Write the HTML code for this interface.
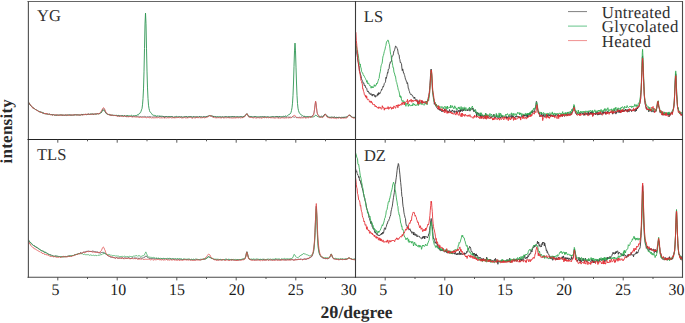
<!DOCTYPE html><html><head><meta charset="utf-8"><style>html,body{margin:0;padding:0;background:#fff;width:685px;height:323px;overflow:hidden;}svg{display:block;font-family:"Liberation Serif",serif;text-rendering:geometricPrecision;}</style></head><body><svg width="685" height="323" viewBox="0 0 685 323"><defs><clipPath id="cYG"><rect x="28.0" y="1.5" width="327.5" height="137.5"/></clipPath><clipPath id="cLS"><rect x="355.5" y="1.5" width="327.0" height="137.5"/></clipPath><clipPath id="cTLS"><rect x="28.0" y="139.5" width="327.5" height="137.5"/></clipPath><clipPath id="cDZ"><rect x="355.5" y="139.5" width="327.0" height="137.5"/></clipPath></defs><polyline clip-path="url(#cYG)" fill="none" stroke="#2e9552" stroke-width="0.95" stroke-opacity="0.95" stroke-linejoin="round" points="28.0,101.7 28.5,102.3 29.0,103.1 29.5,103.3 30.0,105.0 30.5,105.5 31.0,105.7 31.5,106.5 32.0,106.9 32.5,107.1 33.0,107.9 33.5,108.0 34.0,108.4 34.5,108.6 35.0,109.3 35.5,109.5 36.0,109.9 36.5,109.9 37.0,110.4 37.5,110.4 38.0,111.1 38.5,111.2 39.0,111.5 39.5,111.8 40.0,111.6 40.5,112.3 41.0,112.8 41.5,112.1 42.0,112.2 42.5,112.4 43.0,113.2 43.5,113.1 44.0,113.5 44.5,113.5 45.0,113.5 45.5,113.7 46.0,113.7 46.5,114.1 47.0,113.7 47.5,114.0 48.0,114.2 48.5,114.7 49.0,114.2 49.5,114.1 50.0,114.3 50.5,114.8 51.0,114.5 51.5,115.0 52.0,114.2 52.5,115.0 53.0,115.1 53.5,114.5 54.0,115.0 54.5,115.3 55.0,115.0 55.5,115.3 56.0,115.7 56.5,115.2 57.0,115.1 57.5,115.0 58.0,115.3 58.5,115.1 59.0,115.1 59.5,115.2 60.0,115.3 60.5,114.9 61.0,114.8 61.5,114.6 62.0,115.5 62.5,115.2 63.0,115.5 63.5,115.2 64.0,115.0 64.5,115.3 65.0,115.1 65.5,114.8 66.0,114.9 66.5,115.6 67.0,115.2 67.5,115.2 68.0,115.0 68.5,114.9 69.0,115.3 69.5,115.0 70.0,114.9 70.5,115.0 71.0,114.8 71.5,115.1 72.0,115.3 72.5,114.8 73.0,115.4 73.5,114.8 74.0,115.0 74.5,114.8 75.0,114.9 75.5,115.0 76.0,114.8 76.5,114.7 77.0,114.7 77.5,114.7 78.0,114.5 78.5,114.8 79.0,114.9 79.5,115.0 80.0,114.9 80.5,115.3 81.0,114.8 81.5,114.5 82.0,115.1 82.5,114.3 83.0,114.8 83.5,114.3 84.0,114.6 84.5,114.0 85.0,114.7 85.5,114.4 86.0,114.1 86.5,114.8 87.0,114.5 87.5,114.3 88.0,114.1 88.5,114.3 89.0,114.2 89.5,114.4 90.0,114.4 90.5,114.0 91.0,114.0 91.5,114.0 92.0,113.8 92.5,114.0 93.0,114.1 93.5,114.3 94.0,114.4 94.5,113.9 95.0,114.2 95.5,113.9 96.0,114.5 96.5,114.0 97.0,114.1 97.5,113.7 98.0,113.7 98.5,113.9 99.0,113.6 99.5,113.7 100.0,113.0 100.5,113.2 101.0,112.4 101.5,112.5 102.0,111.3 102.5,111.0 103.0,109.8 103.5,110.1 104.0,110.1 104.5,110.8 105.0,111.7 105.5,112.4 106.0,113.2 106.5,113.8 107.0,114.2 107.5,114.3 108.0,114.2 108.5,114.5 109.0,114.7 109.5,114.3 110.0,115.1 110.5,114.9 111.0,115.0 111.5,115.3 112.0,115.3 112.5,115.2 113.0,115.0 113.5,115.3 114.0,115.4 114.5,115.1 115.0,115.6 115.5,115.5 116.0,114.9 116.5,115.5 117.0,115.2 117.5,115.8 118.0,115.8 118.5,115.3 119.0,115.4 119.5,115.7 120.0,115.6 120.5,116.1 121.0,115.9 121.5,115.7 122.0,115.9 122.5,115.3 123.0,115.9 123.5,116.0 124.0,115.8 124.5,115.7 125.0,116.0 125.5,116.4 126.0,115.9 126.5,115.6 127.0,116.3 127.5,115.4 128.0,116.0 128.5,115.8 129.0,116.1 129.5,115.7 130.0,116.2 130.5,116.0 131.0,115.4 131.5,115.3 132.0,115.7 132.5,116.1 133.0,115.8 133.5,115.7 134.0,115.6 134.5,115.8 135.0,115.6 135.5,115.5 136.0,115.1 136.5,115.5 137.0,115.4 137.5,114.6 138.0,115.3 138.5,114.6 139.0,114.0 139.5,113.2 140.0,113.3 140.5,112.6 141.0,111.4 141.5,109.8 142.0,108.6 142.5,104.8 143.0,98.7 143.5,88.9 144.0,71.8 144.5,48.4 145.0,24.1 145.5,13.1 146.0,23.6 146.5,48.2 147.0,71.1 147.5,87.9 148.0,98.5 148.5,105.2 149.0,108.4 149.5,110.5 150.0,111.9 150.5,112.4 151.0,113.0 151.5,113.4 152.0,114.2 152.5,114.9 153.0,114.9 153.5,115.3 154.0,115.1 154.5,115.4 155.0,115.5 155.5,115.5 156.0,116.4 156.5,116.2 157.0,115.9 157.5,115.9 158.0,116.2 158.5,115.9 159.0,116.4 159.5,116.0 160.0,116.3 160.5,116.2 161.0,116.3 161.5,116.2 162.0,116.1 162.5,116.3 163.0,116.4 163.5,116.5 164.0,116.6 164.5,117.0 165.0,116.8 165.5,116.6 166.0,116.9 166.5,116.5 167.0,117.1 167.5,116.9 168.0,116.4 168.5,116.9 169.0,117.0 169.5,116.1 170.0,116.6 170.5,116.7 171.0,116.3 171.5,116.5 172.0,116.6 172.5,116.9 173.0,116.9 173.5,117.5 174.0,116.7 174.5,117.1 175.0,116.9 175.5,116.9 176.0,116.6 176.5,116.4 177.0,116.7 177.5,117.0 178.0,117.3 178.5,117.0 179.0,117.0 179.5,116.7 180.0,117.3 180.5,117.2 181.0,116.8 181.5,116.9 182.0,116.6 182.5,117.3 183.0,117.0 183.5,116.9 184.0,117.0 184.5,117.0 185.0,116.8 185.5,116.6 186.0,116.6 186.5,116.5 187.0,117.0 187.5,117.5 188.0,116.5 188.5,117.0 189.0,117.0 189.5,116.7 190.0,117.0 190.5,116.6 191.0,117.2 191.5,116.8 192.0,117.0 192.5,117.1 193.0,116.8 193.5,116.5 194.0,116.8 194.5,117.1 195.0,116.9 195.5,117.0 196.0,116.7 196.5,117.0 197.0,117.1 197.5,116.9 198.0,117.4 198.5,116.9 199.0,116.7 199.5,116.5 200.0,117.2 200.5,116.9 201.0,117.2 201.5,117.0 202.0,117.3 202.5,117.2 203.0,116.8 203.5,117.0 204.0,117.2 204.5,116.6 205.0,117.2 205.5,117.1 206.0,117.0 206.5,116.7 207.0,116.7 207.5,116.2 208.0,116.3 208.5,115.9 209.0,115.9 209.5,115.5 210.0,115.7 210.5,116.0 211.0,115.5 211.5,116.3 212.0,115.8 212.5,115.9 213.0,116.6 213.5,116.7 214.0,116.9 214.5,116.4 215.0,116.8 215.5,116.9 216.0,117.2 216.5,116.9 217.0,117.0 217.5,116.7 218.0,116.9 218.5,116.8 219.0,117.1 219.5,116.7 220.0,116.7 220.5,117.1 221.0,117.4 221.5,117.0 222.0,117.0 222.5,116.9 223.0,117.2 223.5,117.1 224.0,117.4 224.5,117.0 225.0,116.7 225.5,116.8 226.0,116.7 226.5,116.6 227.0,117.3 227.5,117.1 228.0,116.6 228.5,117.4 229.0,117.0 229.5,116.7 230.0,117.0 230.5,116.9 231.0,116.8 231.5,116.5 232.0,117.0 232.5,117.0 233.0,116.3 233.5,117.1 234.0,117.1 234.5,116.8 235.0,117.0 235.5,116.9 236.0,116.7 236.5,116.8 237.0,117.3 237.5,116.6 238.0,117.0 238.5,117.0 239.0,116.7 239.5,116.8 240.0,116.5 240.5,116.7 241.0,116.9 241.5,116.9 242.0,116.6 242.5,117.6 243.0,116.6 243.5,116.7 244.0,116.5 244.5,116.2 245.0,116.2 245.5,115.1 246.0,114.8 246.7,114.1 247.0,113.7 247.5,114.9 248.0,115.2 248.5,116.7 249.0,116.3 249.5,116.4 250.0,116.2 250.5,116.5 251.0,116.7 251.5,116.6 252.0,116.5 252.5,116.7 253.0,116.8 253.5,117.2 254.0,116.5 254.5,116.8 255.0,116.7 255.5,116.5 256.0,116.6 256.5,116.7 257.0,117.1 257.5,116.9 258.0,116.8 258.5,117.1 259.0,117.0 259.5,116.9 260.0,117.0 260.5,116.7 261.0,117.1 261.5,117.0 262.0,116.8 262.5,116.6 263.0,117.3 263.5,116.9 264.0,117.7 264.5,116.7 265.0,117.1 265.5,116.8 266.0,117.0 266.5,117.1 267.0,116.7 267.5,116.9 268.0,116.9 268.5,116.9 269.0,117.0 269.5,117.2 270.0,117.1 270.5,117.0 271.0,116.8 271.5,116.6 272.0,116.7 272.5,116.7 273.0,117.0 273.5,116.8 274.0,116.5 274.5,117.0 275.0,116.6 275.5,116.6 276.0,116.8 276.5,116.9 277.0,116.2 277.5,116.5 278.0,116.8 278.5,116.7 279.0,116.5 279.5,116.6 280.0,117.0 280.5,116.6 281.0,116.8 281.5,116.8 282.0,116.5 282.5,116.7 283.0,116.4 283.5,116.3 284.0,116.1 284.5,116.5 285.0,116.2 285.5,116.0 286.0,115.8 286.5,116.4 287.0,116.0 287.5,115.6 288.0,115.2 288.5,114.8 289.0,114.9 289.5,114.5 290.0,113.5 290.5,113.5 291.0,112.4 291.5,110.4 292.0,107.8 292.5,103.2 293.0,95.3 293.5,83.0 294.0,66.5 294.5,50.9 295.0,43.1 295.5,50.9 296.0,67.2 296.5,83.0 297.0,95.4 297.5,103.5 298.0,108.2 298.5,110.6 299.0,112.1 299.5,113.2 300.0,113.7 300.5,114.3 301.0,114.4 301.5,115.2 302.0,115.2 302.5,115.6 303.0,115.9 303.5,116.1 304.0,116.6 304.5,116.3 305.0,116.0 305.5,116.5 306.0,116.3 306.5,116.7 307.0,116.4 307.5,116.5 308.0,116.6 308.5,116.6 309.0,116.3 309.5,116.6 310.0,116.8 310.5,117.1 311.0,116.8 311.5,116.8 312.0,117.0 312.5,117.0 313.0,117.2 313.5,116.8 314.0,116.4 314.5,116.4 315.0,116.0 315.6,115.2 316.0,115.5 316.5,115.5 317.0,116.3 317.5,116.5 318.0,116.8 318.5,116.8 319.0,117.0 319.5,117.0 320.0,117.2 320.5,117.1 321.0,116.9 321.5,116.7 322.0,117.3 322.5,117.2 323.0,116.6 323.5,116.4 324.0,115.3 324.5,114.6 325.0,114.3 325.3,114.6 326.0,114.6 326.5,115.4 327.0,116.6 327.5,116.2 328.0,117.1 328.5,117.2 329.0,117.1 329.5,117.2 330.0,117.9 330.5,117.0 331.0,117.2 331.5,117.2 332.0,117.1 332.5,117.0 333.0,117.7 333.5,117.4 334.0,116.9 334.5,117.2 335.0,117.4 335.5,117.5 336.0,117.0 336.5,117.3 337.0,117.4 337.5,117.5 338.0,117.5 338.5,116.9 339.0,117.9 339.5,117.5 340.0,117.9 340.5,118.1 341.0,117.4 341.5,117.1 342.0,117.6 342.5,117.4 343.0,117.3 343.5,117.1 344.0,117.8 344.5,117.3 345.0,117.0 345.5,117.2 346.0,116.9 346.5,117.1 347.0,116.8 347.5,116.3 348.0,116.2 348.5,115.4 349.0,115.3 349.4,115.3 350.0,115.2 350.5,115.6 351.0,116.4 351.5,117.0 352.0,117.1 352.5,117.3 353.0,117.4 353.5,117.5 354.0,117.7 354.5,117.4 355.0,117.4 355.5,117.6"/><polyline clip-path="url(#cYG)" fill="none" stroke="#404040" stroke-width="0.8" stroke-opacity="0.75" stroke-linejoin="round" points="28.0,101.8 28.5,102.7 29.0,103.3 29.5,103.6 30.0,104.8 30.5,105.3 31.0,105.6 31.5,106.4 32.0,106.9 32.5,107.3 33.0,107.7 33.5,108.3 34.0,108.3 34.5,108.8 35.0,109.1 35.5,109.6 36.0,109.8 36.5,110.0 37.0,110.2 37.5,110.6 38.0,110.9 38.5,111.1 39.0,111.8 39.5,111.9 40.0,111.2 40.5,111.6 41.0,112.2 41.5,112.4 42.0,112.7 42.5,112.9 43.0,113.5 43.5,112.8 44.0,113.1 44.5,113.9 45.0,113.7 45.5,113.8 46.0,113.6 46.5,113.5 47.0,114.0 47.5,114.1 48.0,113.9 48.5,114.1 49.0,114.3 49.5,114.2 50.0,114.5 50.5,114.6 51.0,114.6 51.5,114.5 52.0,114.9 52.5,115.0 53.0,114.9 53.5,114.7 54.0,115.1 54.5,114.9 55.0,115.2 55.5,114.8 56.0,115.3 56.5,115.1 57.0,114.8 57.5,115.1 58.0,115.2 58.5,115.3 59.0,114.9 59.5,114.9 60.0,115.2 60.5,115.1 61.0,115.2 61.5,115.4 62.0,114.8 62.5,115.2 63.0,115.5 63.5,115.1 64.0,115.0 64.5,115.3 65.0,115.2 65.5,115.4 66.0,115.1 66.5,114.8 67.0,115.1 67.5,115.0 68.0,115.3 68.5,115.2 69.0,114.7 69.5,114.8 70.0,115.3 70.5,115.2 71.0,114.9 71.5,115.1 72.0,115.2 72.5,115.2 73.0,115.2 73.5,115.1 74.0,115.0 74.5,114.9 75.0,115.2 75.5,114.4 76.0,114.9 76.5,115.0 77.0,114.6 77.5,115.0 78.0,114.7 78.5,115.1 79.0,114.8 79.5,115.0 80.0,115.1 80.5,114.8 81.0,114.5 81.5,114.3 82.0,115.1 82.5,114.6 83.0,114.4 83.5,114.6 84.0,114.5 84.5,114.7 85.0,114.5 85.5,114.4 86.0,114.2 86.5,114.5 87.0,114.1 87.5,114.5 88.0,114.7 88.5,113.9 89.0,113.7 89.5,114.4 90.0,114.9 90.5,114.0 91.0,113.9 91.5,114.3 92.0,114.0 92.5,114.0 93.0,114.1 93.5,114.3 94.0,114.0 94.5,114.2 95.0,114.0 95.5,113.8 96.0,113.9 96.5,113.7 97.0,114.0 97.5,113.6 98.0,113.6 98.5,114.1 99.0,113.6 99.5,113.5 100.0,113.3 100.5,112.7 101.0,112.2 101.5,111.6 102.0,110.7 102.5,109.4 103.0,109.2 103.5,108.7 104.0,108.9 104.5,109.7 105.0,110.8 105.5,112.3 106.0,112.4 106.5,113.4 107.0,113.3 107.5,114.2 108.0,114.7 108.5,114.6 109.0,114.6 109.5,114.9 110.0,115.1 110.5,115.2 111.0,115.6 111.5,115.2 112.0,115.0 112.5,115.2 113.0,115.3 113.5,115.4 114.0,115.4 114.5,115.5 115.0,115.1 115.5,115.7 116.0,115.4 116.5,115.3 117.0,115.8 117.5,116.0 118.0,115.8 118.5,115.8 119.0,115.5 119.5,116.5 120.0,116.1 120.5,115.6 121.0,115.7 121.5,116.0 122.0,115.6 122.5,116.0 123.0,115.9 123.5,116.4 124.0,116.3 124.5,115.4 125.0,116.2 125.5,115.8 126.0,116.5 126.5,116.3 127.0,116.4 127.5,116.0 128.0,116.7 128.5,116.8 129.0,116.1 129.5,116.4 130.0,116.2 130.5,116.4 131.0,116.1 131.5,116.9 132.0,116.2 132.5,116.4 133.0,116.6 133.5,116.3 134.0,116.5 134.5,116.4 135.0,116.5 135.5,116.3 136.0,116.5 136.5,116.5 137.0,116.5 137.5,116.6 138.0,116.6 138.5,116.9 139.0,116.6 139.5,116.7 140.0,116.5 140.5,116.6 141.0,116.4 141.5,116.9 142.0,116.5 142.5,116.6 143.0,116.9 143.5,116.9 144.0,116.7 144.5,116.3 145.0,116.9 145.5,116.9 146.0,116.5 146.5,117.1 147.0,116.7 147.5,116.6 148.0,116.9 148.5,116.8 149.0,116.9 149.5,116.5 150.0,117.3 150.5,116.7 151.0,116.5 151.5,117.1 152.0,116.8 152.5,117.0 153.0,116.8 153.5,116.9 154.0,117.0 154.5,116.7 155.0,117.1 155.5,116.8 156.0,116.7 156.5,116.9 157.0,117.0 157.5,116.9 158.0,116.7 158.5,117.1 159.0,116.5 159.5,116.7 160.0,116.9 160.5,116.6 161.0,116.9 161.5,116.9 162.0,117.2 162.5,116.7 163.0,116.8 163.5,117.0 164.0,116.3 164.5,117.7 165.0,116.8 165.5,116.8 166.0,117.2 166.5,116.9 167.0,116.5 167.5,117.1 168.0,117.2 168.5,116.8 169.0,116.9 169.5,117.1 170.0,116.7 170.5,117.1 171.0,117.0 171.5,116.8 172.0,116.6 172.5,116.9 173.0,116.7 173.5,117.2 174.0,117.0 174.5,117.2 175.0,117.0 175.5,117.0 176.0,116.8 176.5,117.1 177.0,117.4 177.5,116.9 178.0,116.8 178.5,116.9 179.0,116.9 179.5,116.8 180.0,117.0 180.5,116.9 181.0,117.3 181.5,117.0 182.0,117.1 182.5,117.2 183.0,116.9 183.5,117.3 184.0,116.8 184.5,116.8 185.0,116.9 185.5,117.0 186.0,116.6 186.5,117.0 187.0,116.6 187.5,117.3 188.0,117.0 188.5,116.8 189.0,116.8 189.5,116.9 190.0,116.9 190.5,116.7 191.0,116.8 191.5,116.9 192.0,116.9 192.5,117.2 193.0,117.3 193.5,117.0 194.0,117.1 194.5,116.6 195.0,117.1 195.5,117.0 196.0,117.1 196.5,117.4 197.0,116.4 197.5,117.0 198.0,116.7 198.5,117.1 199.0,116.6 199.5,116.8 200.0,117.0 200.5,117.1 201.0,117.0 201.5,116.8 202.0,116.8 202.5,117.2 203.0,116.9 203.5,116.5 204.0,117.1 204.5,117.0 205.0,117.1 205.5,116.8 206.0,117.0 206.5,116.5 207.0,116.8 207.5,116.4 208.0,116.5 208.5,116.3 209.0,115.7 209.5,115.7 210.0,115.6 210.5,116.0 211.0,116.0 211.5,115.8 212.0,116.4 212.5,116.7 213.0,117.2 213.5,116.3 214.0,116.7 214.5,117.2 215.0,116.6 215.5,116.6 216.0,117.1 216.5,117.2 217.0,116.8 217.5,117.1 218.0,117.0 218.5,117.3 219.0,117.0 219.5,117.2 220.0,116.7 220.5,116.9 221.0,116.9 221.5,117.3 222.0,117.1 222.5,116.8 223.0,117.1 223.5,117.2 224.0,116.9 224.5,116.9 225.0,116.9 225.5,116.6 226.0,117.0 226.5,117.0 227.0,116.8 227.5,117.2 228.0,116.6 228.5,116.8 229.0,116.9 229.5,117.5 230.0,116.6 230.5,117.1 231.0,117.2 231.5,117.1 232.0,117.3 232.5,116.7 233.0,116.4 233.5,117.2 234.0,116.7 234.5,116.9 235.0,116.7 235.5,117.2 236.0,117.2 236.5,116.8 237.0,117.2 237.5,117.0 238.0,116.9 238.5,117.0 239.0,116.9 239.5,117.1 240.0,117.0 240.5,116.8 241.0,117.2 241.5,116.7 242.0,117.0 242.5,117.0 243.0,117.2 243.5,116.6 244.0,117.0 244.5,116.4 245.0,115.9 245.5,115.1 246.0,114.6 246.7,113.8 247.0,113.7 247.5,114.3 248.0,115.3 248.5,115.9 249.0,116.7 249.5,117.0 250.0,117.0 250.5,116.9 251.0,116.8 251.5,116.9 252.0,117.1 252.5,117.5 253.0,117.2 253.5,116.9 254.0,117.0 254.5,116.8 255.0,116.8 255.5,116.9 256.0,117.0 256.5,117.4 257.0,117.0 257.5,117.3 258.0,117.4 258.5,117.0 259.0,117.4 259.5,117.2 260.0,116.9 260.5,117.1 261.0,117.0 261.5,116.9 262.0,116.9 262.5,117.0 263.0,117.1 263.5,116.8 264.0,117.0 264.5,116.6 265.0,117.1 265.5,117.2 266.0,117.1 266.5,117.1 267.0,117.2 267.5,116.9 268.0,117.0 268.5,117.2 269.0,117.3 269.5,117.1 270.0,117.7 270.5,117.0 271.0,117.3 271.5,117.4 272.0,117.0 272.5,116.8 273.0,116.7 273.5,117.1 274.0,117.3 274.5,117.1 275.0,117.1 275.5,117.0 276.0,117.2 276.5,116.5 277.0,117.1 277.5,117.1 278.0,116.7 278.5,117.6 279.0,116.7 279.5,116.8 280.0,116.8 280.5,117.4 281.0,116.9 281.5,117.2 282.0,117.2 282.5,117.2 283.0,116.8 283.5,116.9 284.0,117.5 284.5,116.8 285.0,116.9 285.5,117.1 286.0,117.3 286.5,117.2 287.0,117.3 287.5,116.8 288.0,117.3 288.5,117.3 289.0,116.7 289.5,117.5 290.0,117.7 290.5,116.9 291.0,117.1 291.5,117.5 292.0,116.8 292.5,116.6 293.0,116.8 293.5,117.0 294.0,117.0 294.5,117.3 295.0,117.2 295.5,116.8 296.0,117.3 296.5,117.6 297.0,117.4 297.5,117.4 298.0,117.1 298.5,117.4 299.0,116.9 299.5,117.3 300.0,117.1 300.5,117.4 301.0,117.2 301.5,116.8 302.0,117.2 302.5,117.4 303.0,116.8 303.5,117.0 304.0,116.9 304.5,116.7 305.0,117.3 305.5,117.4 306.0,117.3 306.5,117.1 307.0,117.0 307.5,117.1 308.0,116.8 308.5,117.2 309.0,117.1 309.5,117.1 310.0,116.6 310.5,116.7 311.0,116.5 311.5,116.8 312.0,116.2 312.5,115.3 313.0,115.3 313.5,114.8 314.0,112.7 314.5,109.8 315.0,105.4 315.6,101.5 316.0,103.3 316.5,107.7 317.0,111.5 317.5,113.8 318.0,115.1 318.5,115.5 319.0,116.3 319.5,116.2 320.0,116.3 320.5,116.8 321.0,116.5 321.5,116.1 322.0,116.5 322.5,116.7 323.0,115.8 323.5,116.1 324.0,115.6 324.5,114.6 325.0,113.9 325.3,114.1 326.0,114.7 326.5,115.9 327.0,116.3 327.5,116.3 328.0,116.7 328.5,117.2 329.0,117.6 329.5,117.3 330.0,117.3 330.5,117.7 331.0,117.3 331.5,117.2 332.0,116.9 332.5,117.2 333.0,117.9 333.5,117.0 334.0,117.4 334.5,117.0 335.0,117.4 335.5,117.6 336.0,117.3 336.5,117.6 337.0,117.6 337.5,117.5 338.0,117.8 338.5,117.6 339.0,117.3 339.5,117.3 340.0,117.2 340.5,117.5 341.0,117.3 341.5,118.1 342.0,117.9 342.5,117.4 343.0,117.3 343.5,117.8 344.0,116.9 344.5,117.3 345.0,117.6 345.5,117.1 346.0,117.1 346.5,117.0 347.0,117.1 347.5,116.6 348.0,116.2 348.5,115.7 349.0,115.1 349.4,115.3 350.0,115.1 350.5,115.4 351.0,115.9 351.5,116.4 352.0,116.9 352.5,117.5 353.0,117.4 353.5,117.3 354.0,117.3 354.5,117.4 355.0,117.5 355.5,117.5"/><polyline clip-path="url(#cYG)" fill="none" stroke="#e45858" stroke-width="0.85" stroke-opacity="0.9" stroke-linejoin="round" points="28.0,102.2 28.5,101.8 29.0,103.3 29.5,103.8 30.0,104.5 30.5,105.1 31.0,105.3 31.5,106.2 32.0,106.6 32.5,108.1 33.0,107.8 33.5,108.0 34.0,108.4 34.5,108.7 35.0,108.9 35.5,109.4 36.0,109.9 36.5,110.0 37.0,110.6 37.5,110.6 38.0,110.9 38.5,111.6 39.0,111.6 39.5,111.6 40.0,111.9 40.5,112.2 41.0,112.8 41.5,112.4 42.0,112.6 42.5,113.1 43.0,112.7 43.5,113.0 44.0,113.5 44.5,113.5 45.0,113.5 45.5,113.8 46.0,113.0 46.5,114.1 47.0,113.7 47.5,113.7 48.0,114.3 48.5,114.4 49.0,114.2 49.5,114.2 50.0,114.5 50.5,114.5 51.0,115.0 51.5,114.9 52.0,114.8 52.5,115.1 53.0,114.8 53.5,114.7 54.0,115.1 54.5,115.1 55.0,115.0 55.5,114.9 56.0,115.1 56.5,114.5 57.0,115.3 57.5,115.3 58.0,114.8 58.5,115.2 59.0,115.0 59.5,115.4 60.0,114.7 60.5,115.0 61.0,115.4 61.5,115.5 62.0,114.6 62.5,115.1 63.0,115.3 63.5,115.0 64.0,115.6 64.5,114.9 65.0,115.2 65.5,114.9 66.0,115.5 66.5,115.1 67.0,115.0 67.5,114.7 68.0,115.5 68.5,115.3 69.0,115.3 69.5,115.4 70.0,115.2 70.5,114.9 71.0,114.9 71.5,114.9 72.0,115.4 72.5,114.7 73.0,114.9 73.5,114.9 74.0,115.1 74.5,115.1 75.0,114.7 75.5,114.5 76.0,115.0 76.5,115.2 77.0,115.1 77.5,115.0 78.0,114.8 78.5,114.9 79.0,114.8 79.5,115.0 80.0,114.6 80.5,114.8 81.0,114.7 81.5,114.8 82.0,114.7 82.5,115.3 83.0,115.0 83.5,114.9 84.0,114.0 84.5,114.4 85.0,114.3 85.5,114.6 86.0,113.8 86.5,114.7 87.0,114.6 87.5,114.0 88.0,114.1 88.5,114.1 89.0,114.3 89.5,114.4 90.0,114.7 90.5,114.2 91.0,114.4 91.5,114.2 92.0,114.6 92.5,114.3 93.0,114.5 93.5,113.8 94.0,114.0 94.5,113.9 95.0,114.4 95.5,114.2 96.0,113.9 96.5,113.8 97.0,114.0 97.5,113.7 98.0,113.5 98.5,113.8 99.0,114.2 99.5,113.3 100.0,112.8 100.5,112.2 101.0,111.5 101.5,111.0 102.0,110.0 102.5,108.7 103.0,108.0 103.5,107.6 104.0,108.0 104.5,108.6 105.0,110.0 105.5,111.3 106.0,112.1 106.5,112.9 107.0,113.4 107.5,114.0 108.0,114.5 108.5,114.4 109.0,114.6 109.5,115.0 110.0,115.1 110.5,115.4 111.0,114.5 111.5,115.3 112.0,115.1 112.5,115.3 113.0,115.5 113.5,115.6 114.0,115.7 114.5,115.5 115.0,115.9 115.5,115.5 116.0,115.6 116.5,115.9 117.0,115.6 117.5,116.3 118.0,116.1 118.5,116.4 119.0,115.9 119.5,115.9 120.0,116.0 120.5,116.2 121.0,115.9 121.5,116.2 122.0,116.2 122.5,116.6 123.0,116.1 123.5,116.6 124.0,116.2 124.5,116.1 125.0,116.2 125.5,116.2 126.0,116.5 126.5,116.8 127.0,116.6 127.5,116.7 128.0,117.0 128.5,116.7 129.0,116.7 129.5,116.6 130.0,116.3 130.5,117.0 131.0,116.4 131.5,117.0 132.0,116.9 132.5,117.2 133.0,116.9 133.5,116.8 134.0,117.1 134.5,116.9 135.0,117.0 135.5,117.1 136.0,117.1 136.5,117.1 137.0,117.0 137.5,117.2 138.0,116.7 138.5,117.2 139.0,117.0 139.5,117.6 140.0,117.7 140.5,116.9 141.0,117.5 141.5,117.4 142.0,117.2 142.5,117.6 143.0,117.4 143.5,117.1 144.0,117.5 144.5,117.5 145.0,117.6 145.5,117.3 146.0,117.8 146.5,117.8 147.0,117.4 147.5,117.5 148.0,117.6 148.5,117.5 149.0,118.1 149.5,117.7 150.0,117.4 150.5,117.5 151.0,117.7 151.5,118.3 152.0,117.7 152.5,117.7 153.0,117.8 153.5,117.7 154.0,118.3 154.5,117.6 155.0,117.9 155.5,117.8 156.0,117.9 156.5,117.4 157.0,118.2 157.5,117.7 158.0,117.7 158.5,117.5 159.0,117.5 159.5,117.9 160.0,118.0 160.5,117.9 161.0,118.0 161.5,117.9 162.0,117.7 162.5,117.9 163.0,117.9 163.5,117.7 164.0,117.9 164.5,118.1 165.0,117.8 165.5,117.7 166.0,117.9 166.5,118.2 167.0,117.7 167.5,117.7 168.0,117.7 168.5,118.1 169.0,117.3 169.5,117.8 170.0,118.1 170.5,117.6 171.0,118.1 171.5,117.9 172.0,117.6 172.5,117.8 173.0,117.4 173.5,117.6 174.0,118.2 174.5,117.5 175.0,118.2 175.5,117.7 176.0,118.0 176.5,117.8 177.0,117.2 177.5,117.6 178.0,117.8 178.5,117.5 179.0,117.4 179.5,117.9 180.0,117.6 180.5,117.4 181.0,117.6 181.5,118.0 182.0,117.7 182.5,118.0 183.0,118.2 183.5,117.8 184.0,117.5 184.5,117.5 185.0,117.8 185.5,118.0 186.0,117.8 186.5,117.9 187.0,117.7 187.5,117.9 188.0,117.7 188.5,117.7 189.0,117.5 189.5,117.4 190.0,117.7 190.5,117.5 191.0,117.5 191.5,117.9 192.0,117.8 192.5,118.5 193.0,118.0 193.5,117.6 194.0,118.0 194.5,117.9 195.0,117.6 195.5,118.0 196.0,117.6 196.5,117.0 197.0,118.0 197.5,117.6 198.0,118.1 198.5,117.6 199.0,117.5 199.5,118.1 200.0,117.5 200.5,117.8 201.0,118.1 201.5,117.8 202.0,117.7 202.5,117.7 203.0,117.9 203.5,117.5 204.0,117.8 204.5,117.8 205.0,118.2 205.5,117.5 206.0,117.3 206.5,117.6 207.0,117.1 207.5,117.1 208.0,116.7 208.5,116.6 209.0,115.8 209.5,115.7 210.0,115.0 210.5,115.5 211.0,116.4 211.5,116.2 212.0,116.5 212.5,116.7 213.0,117.4 213.5,117.4 214.0,117.2 214.5,117.7 215.0,117.7 215.5,117.8 216.0,117.5 216.5,118.1 217.0,117.8 217.5,117.7 218.0,117.6 218.5,117.7 219.0,118.0 219.5,117.7 220.0,118.0 220.5,117.9 221.0,118.1 221.5,118.0 222.0,117.7 222.5,117.3 223.0,117.8 223.5,118.0 224.0,117.8 224.5,117.9 225.0,117.7 225.5,117.7 226.0,117.5 226.5,118.1 227.0,117.8 227.5,117.6 228.0,117.4 228.5,117.7 229.0,118.1 229.5,117.9 230.0,117.6 230.5,118.1 231.0,118.1 231.5,118.0 232.0,118.0 232.5,118.1 233.0,117.9 233.5,118.0 234.0,117.6 234.5,118.1 235.0,117.8 235.5,118.3 236.0,117.2 236.5,117.9 237.0,118.0 237.5,117.7 238.0,117.9 238.5,117.9 239.0,117.9 239.5,117.6 240.0,117.7 240.5,118.0 241.0,118.0 241.5,117.7 242.0,117.7 242.5,117.7 243.0,117.8 243.5,117.2 244.0,117.0 244.5,117.0 245.0,116.2 245.5,115.5 246.0,114.6 246.7,113.9 247.0,113.7 247.5,115.0 248.0,115.4 248.5,116.7 249.0,116.7 249.5,117.0 250.0,117.7 250.5,117.5 251.0,117.4 251.5,117.5 252.0,117.8 252.5,117.7 253.0,117.7 253.5,118.0 254.0,117.6 254.5,117.6 255.0,117.6 255.5,118.0 256.0,118.0 256.5,118.1 257.0,117.8 257.5,117.7 258.0,118.0 258.5,117.7 259.0,118.0 259.5,118.0 260.0,117.6 260.5,117.8 261.0,117.8 261.5,118.2 262.0,118.4 262.5,117.8 263.0,117.8 263.5,117.2 264.0,117.9 264.5,117.8 265.0,117.5 265.5,118.0 266.0,117.4 266.5,117.8 267.0,117.8 267.5,117.5 268.0,118.0 268.5,118.1 269.0,117.5 269.5,117.5 270.0,118.0 270.5,117.8 271.0,117.5 271.5,117.8 272.0,117.8 272.5,117.8 273.0,118.0 273.5,117.9 274.0,118.3 274.5,118.2 275.0,118.0 275.5,118.1 276.0,118.2 276.5,118.0 277.0,117.5 277.5,118.1 278.0,117.9 278.5,118.3 279.0,117.9 279.5,118.0 280.0,117.9 280.5,118.3 281.0,117.9 281.5,117.8 282.0,117.9 282.5,117.8 283.0,117.9 283.5,117.9 284.0,117.9 284.5,118.3 285.0,117.8 285.5,117.9 286.0,117.8 286.5,118.0 287.0,117.6 287.5,117.7 288.0,117.8 288.5,118.0 289.0,117.8 289.5,117.7 290.0,117.5 290.5,117.8 291.0,118.0 291.5,117.6 292.0,117.3 292.5,117.0 293.0,116.1 293.5,115.7 294.0,115.2 294.3,115.3 295.0,115.6 295.5,115.9 296.0,117.1 296.5,117.6 297.0,117.4 297.5,117.7 298.0,117.8 298.5,118.0 299.0,117.4 299.5,118.2 300.0,117.7 300.5,118.2 301.0,117.9 301.5,117.8 302.0,117.8 302.5,118.1 303.0,117.6 303.5,117.8 304.0,117.7 304.5,117.4 305.0,118.2 305.5,118.0 306.0,117.8 306.5,118.1 307.0,117.5 307.5,117.7 308.0,118.2 308.5,117.9 309.0,117.1 309.5,116.7 310.0,117.2 310.5,117.7 311.0,117.1 311.5,117.0 312.0,117.0 312.5,116.2 313.0,115.9 313.5,114.9 314.0,113.0 314.5,109.7 315.0,104.7 315.6,101.2 316.0,102.9 316.5,108.1 317.0,112.4 317.5,113.9 318.0,114.9 318.5,116.1 319.0,116.8 319.5,117.2 320.0,117.4 320.5,117.1 321.0,117.2 321.5,117.8 322.0,117.2 322.5,117.6 323.0,117.1 323.5,116.9 324.0,116.2 324.5,115.3 325.0,114.6 325.3,114.0 326.0,115.1 326.5,116.0 327.0,116.8 327.5,117.6 328.0,117.5 328.5,117.6 329.0,117.7 329.5,117.9 330.0,118.2 330.5,117.8 331.0,118.3 331.5,118.1 332.0,118.0 332.5,117.8 333.0,118.2 333.5,118.3 334.0,117.7 334.5,118.4 335.0,118.6 335.5,118.2 336.0,118.3 336.5,118.8 337.0,118.5 337.5,118.0 338.0,118.2 338.5,118.2 339.0,118.2 339.5,117.6 340.0,118.4 340.5,118.0 341.0,118.2 341.5,118.2 342.0,118.4 342.5,118.1 343.0,118.0 343.5,118.3 344.0,118.5 344.5,118.1 345.0,118.5 345.5,118.1 346.0,117.8 346.5,118.2 347.0,117.3 347.5,117.3 348.0,116.3 348.5,115.8 349.0,114.9 349.4,114.8 350.0,115.6 350.5,116.1 351.0,116.7 351.5,117.2 352.0,117.8 352.5,117.6 353.0,117.8 353.5,118.2 354.0,118.1 354.5,118.1 355.0,118.3 355.5,118.3"/><polyline clip-path="url(#cLS)" fill="none" stroke="#333333" stroke-width="0.85" stroke-opacity="1.0" stroke-linejoin="round" points="355.5,46.0 355.9,49.7 356.3,52.0 356.7,52.7 357.1,55.3 357.5,57.5 357.9,60.9 358.3,62.8 358.7,65.9 359.1,65.8 359.5,71.2 359.9,71.6 360.3,74.0 360.7,74.9 361.1,76.2 361.5,78.5 361.9,80.1 362.3,80.4 362.7,81.6 363.1,83.4 363.5,82.8 363.9,83.1 364.3,85.8 364.7,85.6 365.1,85.2 365.5,87.0 365.9,88.0 366.3,88.0 366.7,88.4 367.1,90.4 367.5,91.7 367.9,91.1 368.3,91.1 368.7,92.6 369.1,93.3 369.5,92.7 369.9,93.8 370.3,94.6 370.7,93.7 371.1,93.4 371.5,94.8 371.9,95.0 372.3,96.1 372.7,94.1 373.1,94.9 373.5,94.9 373.9,94.2 374.3,96.1 374.7,96.5 375.1,95.2 375.5,97.2 375.9,96.5 376.3,96.2 376.7,95.8 377.1,96.1 377.5,93.7 377.9,95.3 378.3,95.0 378.7,92.5 379.1,94.2 379.5,93.3 379.9,93.8 380.3,92.0 380.7,91.7 381.1,91.3 381.5,89.4 381.9,89.9 382.3,88.3 382.7,88.0 383.1,86.1 383.5,86.7 383.9,85.3 384.3,83.5 384.7,83.1 385.1,82.6 385.5,81.8 385.9,77.4 386.3,78.4 386.7,76.7 387.1,74.8 387.5,72.5 387.9,73.1 388.3,69.2 388.7,69.4 389.1,68.6 389.5,64.4 389.9,64.3 390.3,61.9 390.7,62.0 391.1,61.9 391.5,61.0 391.9,56.1 392.3,56.0 392.7,55.9 393.1,55.5 393.5,53.2 393.9,51.0 394.3,50.8 394.7,49.4 395.1,48.0 395.5,46.1 395.9,46.4 396.3,46.6 396.7,47.3 397.1,48.6 397.5,48.9 397.9,51.1 398.3,54.2 398.7,54.4 399.1,54.7 399.5,58.8 399.9,59.6 400.3,62.6 400.7,62.2 401.1,63.2 401.5,63.8 401.9,68.0 402.3,70.7 402.7,68.9 403.1,70.5 403.5,73.0 403.9,72.9 404.3,74.6 404.7,75.7 405.1,77.4 405.5,79.4 405.9,79.5 406.3,81.5 406.7,81.5 407.1,83.6 407.5,82.7 407.9,84.9 408.3,88.5 408.7,88.5 409.1,90.7 409.5,91.6 409.9,93.3 410.3,93.6 410.7,94.6 411.1,94.2 411.5,94.3 411.9,94.9 412.3,95.8 412.7,95.7 413.1,96.8 413.5,97.7 413.9,98.5 414.3,98.2 414.7,97.0 415.1,99.1 415.5,99.6 415.9,100.7 416.3,100.5 416.7,99.5 417.1,99.7 417.5,102.5 417.9,101.4 418.3,102.6 418.7,103.1 419.1,100.4 419.5,101.7 419.9,101.9 420.3,102.2 420.7,102.3 421.1,102.1 421.5,102.1 421.9,100.6 422.3,102.0 422.7,101.5 423.1,102.3 423.5,101.8 423.9,102.9 424.3,103.1 424.7,102.6 425.1,102.5 425.5,102.2 425.9,101.6 426.3,101.7 426.7,101.1 427.1,101.6 427.5,100.7 427.9,100.5 428.3,97.6 428.7,98.0 429.1,94.0 429.5,90.3 429.9,85.5 430.3,78.5 430.7,72.7 431.1,69.0 431.5,71.7 431.9,78.8 432.3,87.9 432.7,92.2 433.1,95.1 433.5,99.1 433.9,99.6 434.3,104.2 434.7,102.1 435.1,104.9 435.5,105.6 435.9,104.3 436.3,106.5 436.7,107.7 437.1,107.7 437.5,108.0 437.9,109.1 438.3,108.7 438.7,109.3 439.1,109.2 439.5,110.2 439.9,108.9 440.3,110.7 440.7,109.5 441.1,109.1 441.5,110.6 441.9,112.0 442.3,111.4 442.7,110.0 443.1,111.3 443.5,110.3 443.9,110.6 444.3,110.9 444.7,108.7 445.1,111.1 445.5,110.0 445.9,110.4 446.3,109.7 446.7,109.7 447.1,110.3 447.5,112.0 447.9,112.8 448.3,111.2 448.7,112.3 449.1,111.1 449.5,109.5 449.9,111.5 450.3,111.8 450.7,110.9 451.1,111.6 451.5,111.9 451.9,110.5 452.3,109.9 452.7,111.1 453.1,111.0 453.5,110.9 453.9,112.1 454.3,112.8 454.7,110.7 455.1,111.8 455.5,111.9 455.9,111.7 456.3,112.0 456.7,110.6 457.1,111.6 457.5,112.8 457.9,111.6 458.3,110.2 458.7,111.3 459.1,111.9 459.5,111.0 459.9,110.1 460.3,112.0 460.7,109.3 461.1,111.0 461.5,110.4 461.9,109.3 462.3,111.5 462.7,110.7 463.1,109.2 463.5,110.8 463.9,109.8 464.3,108.3 464.7,109.4 465.1,110.3 465.5,110.6 465.9,110.1 466.3,110.0 466.7,110.3 467.1,109.6 467.5,110.9 467.9,109.9 468.3,110.0 468.7,110.3 469.1,108.8 469.5,109.1 469.9,111.2 470.3,110.0 470.7,109.3 471.1,109.7 471.5,108.7 471.9,109.2 472.4,108.3 472.7,109.4 473.1,108.2 473.5,111.5 473.9,110.4 474.3,109.8 474.7,111.6 475.1,111.8 475.5,112.5 475.9,111.6 476.3,113.3 476.7,116.6 477.1,112.2 477.5,114.1 477.9,113.8 478.3,114.5 478.7,112.9 479.1,113.8 479.5,115.5 479.9,115.1 480.3,116.8 480.7,114.7 481.1,115.6 481.5,118.2 481.9,114.8 482.3,114.7 482.7,115.6 483.1,115.7 483.5,116.6 483.9,116.0 484.3,115.2 484.7,116.1 485.1,118.5 485.5,117.3 485.9,113.5 486.3,116.0 486.7,115.4 487.1,116.8 487.5,116.1 487.9,118.2 488.3,117.3 488.7,117.3 489.1,116.6 489.5,116.4 489.9,116.8 490.3,117.8 490.7,117.1 491.1,116.3 491.5,117.8 491.9,116.8 492.3,116.6 492.7,116.0 493.1,116.2 493.5,116.2 493.9,114.1 494.3,117.8 494.7,117.4 495.1,116.6 495.5,117.8 495.9,117.3 496.3,117.2 496.7,114.5 497.1,116.7 497.5,117.4 497.9,118.4 498.3,118.7 498.7,118.3 499.1,115.8 499.5,114.8 499.9,117.5 500.3,116.9 500.7,117.8 501.1,116.8 501.5,117.1 501.9,115.5 502.3,117.3 502.7,116.5 503.1,117.2 503.5,117.3 503.9,116.8 504.3,117.2 504.7,116.9 505.1,117.6 505.5,117.4 505.9,116.4 506.3,116.3 506.7,118.5 507.1,116.8 507.5,117.8 507.9,117.2 508.3,116.3 508.7,116.1 509.1,116.9 509.5,117.1 509.9,117.4 510.3,115.6 510.7,116.2 511.1,116.7 511.5,118.3 511.9,114.5 512.3,117.2 512.7,116.3 513.1,117.2 513.5,116.3 513.9,117.1 514.3,118.2 514.7,117.1 515.1,117.1 515.5,117.1 515.9,116.0 516.3,117.2 516.7,116.5 517.1,115.9 517.5,116.6 517.9,116.4 518.3,117.3 518.7,116.5 519.1,116.1 519.5,117.9 519.9,117.4 520.3,117.7 520.7,117.0 521.1,116.3 521.5,116.0 521.9,116.1 522.3,117.2 522.7,116.4 523.1,114.8 523.5,116.2 523.9,114.8 524.3,116.3 524.7,114.9 525.1,114.8 525.5,116.0 525.9,115.7 526.3,114.1 526.7,116.3 527.1,117.6 527.5,114.0 527.9,117.0 528.3,114.4 528.7,114.4 529.1,114.5 529.5,113.1 529.9,115.4 530.3,114.4 530.7,112.9 531.1,113.0 531.5,111.5 531.9,112.3 532.3,113.2 532.7,110.4 533.1,111.3 533.5,111.6 533.9,112.3 534.3,112.3 534.7,110.1 535.1,108.9 535.5,108.3 535.9,104.7 536.3,101.3 536.6,101.5 537.1,105.5 537.5,108.0 537.9,110.3 538.3,112.7 538.7,111.3 539.1,113.7 539.5,113.2 539.9,116.8 540.3,115.4 540.7,115.1 541.1,114.9 541.5,112.8 541.9,116.0 542.3,116.9 542.7,114.8 543.1,116.2 543.5,116.3 543.9,114.1 544.3,116.5 544.7,117.0 545.1,115.9 545.5,115.6 545.9,116.5 546.3,114.3 546.7,115.8 547.1,116.7 547.5,114.6 547.9,116.7 548.3,115.4 548.7,113.8 549.1,115.6 549.5,114.8 549.9,116.0 550.3,114.6 550.7,116.7 551.1,115.0 551.5,116.0 551.9,115.1 552.3,115.4 552.7,116.8 553.1,115.8 553.5,115.2 553.9,114.4 554.3,116.7 554.7,116.3 555.1,115.3 555.5,115.8 555.9,114.5 556.3,114.5 556.7,114.7 557.1,115.8 557.5,115.7 557.9,114.7 558.3,116.1 558.7,116.1 559.1,115.5 559.5,116.3 559.9,115.1 560.3,115.2 560.7,115.8 561.1,115.2 561.5,116.0 561.9,114.0 562.3,116.6 562.7,114.4 563.1,115.0 563.5,113.8 563.9,115.7 564.3,116.3 564.7,116.1 565.1,115.8 565.5,113.5 565.9,114.2 566.3,114.5 566.7,114.0 567.1,115.9 567.5,115.0 567.9,114.7 568.3,115.1 568.7,113.7 569.1,113.7 569.5,113.6 569.9,114.9 570.3,114.6 570.7,114.7 571.1,115.0 571.5,112.4 571.9,112.7 572.3,112.7 572.7,110.0 573.1,108.7 573.5,107.5 573.9,106.0 574.3,107.5 574.7,109.2 575.1,110.9 575.5,113.3 575.9,112.6 576.3,113.7 576.7,114.8 577.1,113.4 577.5,113.2 577.9,113.9 578.3,114.5 578.7,114.4 579.1,114.1 579.5,114.5 579.9,112.4 580.3,113.2 580.7,114.1 581.1,113.1 581.5,112.7 581.9,112.8 582.3,113.1 582.7,113.8 583.1,112.9 583.5,114.1 583.9,115.5 584.3,113.7 584.7,115.1 585.1,114.1 585.5,112.8 585.9,113.6 586.3,112.9 586.7,114.5 587.1,112.7 587.5,115.0 587.9,114.3 588.3,111.8 588.7,114.5 589.1,115.2 589.5,113.0 589.9,114.6 590.3,112.0 590.7,113.9 591.1,112.1 591.5,114.1 591.9,111.9 592.3,111.1 592.7,114.0 593.1,115.7 593.5,113.0 593.9,114.3 594.3,113.6 594.7,113.2 595.1,114.1 595.5,115.0 595.9,112.3 596.3,114.0 596.7,113.7 597.1,112.0 597.5,114.9 597.9,115.2 598.3,112.4 598.7,115.0 599.1,113.3 599.5,113.1 599.9,114.7 600.3,113.4 600.7,113.5 601.1,114.6 601.5,114.4 601.9,113.9 602.3,111.7 602.7,111.5 603.1,114.1 603.5,112.1 603.9,113.1 604.3,111.9 604.7,112.7 605.1,111.6 605.5,114.3 605.9,111.8 606.3,112.6 606.7,112.5 607.1,113.8 607.5,111.3 607.9,112.5 608.3,112.3 608.7,113.0 609.1,112.9 609.5,112.0 609.9,112.6 610.3,112.0 610.7,112.7 611.1,112.1 611.5,111.6 611.9,112.1 612.3,112.5 612.7,114.2 613.1,111.6 613.5,112.3 613.9,113.3 614.3,109.9 614.7,110.2 615.1,110.7 615.5,111.7 615.9,114.1 616.3,112.1 616.7,112.8 617.1,111.4 617.5,109.2 617.9,109.3 618.3,112.5 618.7,111.6 619.1,110.2 619.5,112.5 619.9,109.9 620.3,112.4 620.7,112.7 621.1,110.5 621.5,110.2 621.9,112.0 622.3,110.1 622.7,111.9 623.1,109.9 623.5,111.8 623.9,111.1 624.3,110.5 624.7,110.0 625.1,111.1 625.5,109.0 625.9,110.5 626.3,110.3 626.7,111.3 627.1,109.4 627.5,112.2 627.9,110.2 628.3,109.4 628.7,111.7 629.1,112.0 629.5,110.2 629.9,109.4 630.3,110.2 630.7,109.5 631.1,109.8 631.5,111.6 631.9,110.4 632.3,110.1 632.7,110.2 633.1,109.8 633.5,110.6 633.9,110.5 634.3,109.3 634.7,109.6 635.1,111.7 635.5,109.7 635.9,109.0 636.3,111.0 636.7,108.9 637.1,107.6 637.5,109.0 637.9,107.2 638.3,107.1 638.7,107.3 639.1,106.2 639.5,104.5 639.9,103.2 640.3,100.8 640.7,98.7 641.1,91.0 641.5,82.1 641.9,72.3 642.3,57.7 642.6,55.9 643.1,65.1 643.5,76.8 643.9,86.5 644.3,95.8 644.7,100.8 645.1,104.1 645.5,105.2 645.9,107.6 646.3,108.8 646.7,107.2 647.1,110.1 647.5,109.4 647.9,109.0 648.3,109.6 648.7,111.9 649.1,111.3 649.5,108.8 649.9,110.8 650.3,110.7 650.7,110.8 651.1,110.6 651.5,109.8 651.9,112.1 652.3,110.5 652.7,111.1 653.1,111.0 653.5,110.9 653.9,112.3 654.3,112.0 654.7,110.9 655.1,110.6 655.5,110.8 655.9,111.7 656.3,110.1 656.7,108.8 657.1,106.2 657.5,103.9 658.0,102.7 658.3,101.5 658.7,107.2 659.1,107.4 659.5,109.5 659.9,112.6 660.3,112.4 660.7,112.7 661.1,112.5 661.5,111.8 661.9,113.7 662.3,114.8 662.7,113.0 663.1,115.3 663.5,113.0 663.9,113.5 664.3,114.8 664.7,114.4 665.1,115.2 665.5,113.9 665.9,113.7 666.3,112.9 666.7,113.6 667.1,113.7 667.5,113.4 667.9,115.0 668.3,114.0 668.7,112.7 669.1,116.9 669.5,113.6 669.9,113.1 670.3,115.3 670.7,115.0 671.1,112.6 671.5,112.0 671.9,112.0 672.3,113.5 672.7,111.4 673.1,109.8 673.5,108.8 673.9,107.1 674.3,99.9 674.7,93.3 675.1,81.9 675.5,75.7 675.7,73.7 675.9,74.5 676.3,83.0 676.7,94.3 677.1,99.2 677.5,106.2 677.9,107.5 678.3,109.2 678.7,110.9 679.1,111.9 679.5,113.3 679.9,113.8 680.3,113.7 680.7,112.8 681.1,114.5 681.5,113.9 681.9,115.2 682.3,113.3"/><polyline clip-path="url(#cLS)" fill="none" stroke="#2fab50" stroke-width="0.85" stroke-opacity="1.0" stroke-linejoin="round" points="355.5,40.0 355.9,43.5 356.3,45.6 356.7,48.0 357.1,51.1 357.5,50.7 357.9,53.5 358.3,55.1 358.7,58.5 359.1,61.6 359.5,62.6 359.9,64.8 360.3,64.0 360.7,67.4 361.1,67.6 361.5,71.4 361.9,71.7 362.3,72.8 362.7,72.9 363.1,74.5 363.5,75.5 363.9,75.4 364.3,76.2 364.7,77.4 365.1,77.8 365.5,78.6 365.9,79.7 366.3,80.1 366.7,82.2 367.1,80.6 367.5,83.6 367.9,82.8 368.3,83.4 368.7,83.1 369.1,84.8 369.5,85.1 369.9,85.9 370.3,85.6 370.7,86.4 371.1,88.2 371.5,87.0 371.9,86.2 372.3,87.8 372.7,86.8 373.1,87.5 373.5,87.5 373.9,86.4 374.3,84.7 374.7,85.9 375.1,86.4 375.5,85.1 375.9,85.4 376.3,85.2 376.7,83.0 377.1,83.7 377.5,83.0 377.9,81.4 378.3,80.3 378.7,78.9 379.1,78.5 379.5,74.9 379.9,73.0 380.3,71.7 380.7,68.4 381.1,65.8 381.5,64.5 381.9,63.8 382.3,62.0 382.7,58.2 383.1,55.9 383.5,55.3 383.9,53.4 384.3,51.5 384.7,50.3 385.1,49.1 385.5,46.6 385.9,45.7 386.3,42.9 386.7,41.6 387.1,41.5 387.5,40.5 387.9,39.9 388.3,40.4 388.7,42.1 389.1,44.1 389.5,44.6 389.9,48.2 390.3,51.8 390.7,54.5 391.1,54.9 391.5,59.8 391.9,60.5 392.3,62.9 392.7,65.4 393.1,67.9 393.5,67.8 393.9,72.0 394.3,73.0 394.7,74.0 395.1,76.3 395.5,76.2 395.9,79.3 396.3,81.7 396.7,82.4 397.1,84.3 397.5,86.0 397.9,87.7 398.3,90.1 398.7,90.6 399.1,91.9 399.5,94.0 399.9,96.8 400.3,95.7 400.7,97.6 401.1,96.6 401.5,100.2 401.9,100.2 402.3,101.5 402.7,100.7 403.1,100.3 403.5,102.6 403.9,103.0 404.3,101.8 404.7,101.6 405.1,103.8 405.5,103.5 405.9,106.3 406.3,103.5 406.7,103.7 407.1,104.3 407.5,103.0 407.9,103.9 408.3,106.4 408.7,104.9 409.1,104.5 409.5,104.0 409.9,105.8 410.3,106.0 410.7,105.6 411.1,105.0 411.5,105.6 411.9,105.7 412.3,104.6 412.7,105.8 413.1,103.2 413.5,103.9 413.9,104.8 414.3,104.9 414.7,103.9 415.1,105.2 415.5,105.8 415.9,105.2 416.3,104.9 416.7,105.4 417.1,104.9 417.5,103.4 417.9,104.2 418.3,105.6 418.7,103.2 419.1,104.3 419.5,103.8 419.9,103.3 420.3,103.2 420.7,104.2 421.1,104.4 421.5,104.4 421.9,102.8 422.3,103.9 422.7,104.5 423.1,105.0 423.5,104.8 423.9,104.9 424.3,105.1 424.7,104.8 425.1,103.2 425.5,103.9 425.9,103.0 426.3,101.2 426.7,101.6 427.1,104.8 427.5,101.3 427.9,99.5 428.3,100.1 428.7,100.7 429.1,97.2 429.5,94.5 429.9,89.4 430.3,83.5 430.7,77.8 431.1,72.0 431.3,70.4 431.5,72.2 431.9,77.8 432.3,83.8 432.7,90.5 433.1,95.1 433.5,97.4 433.9,101.4 434.3,101.7 434.7,102.4 435.1,102.2 435.5,103.2 435.9,106.3 436.3,104.2 436.7,106.0 437.1,105.5 437.5,106.5 437.9,106.8 438.3,105.6 438.7,106.2 439.1,106.7 439.5,106.8 439.9,106.8 440.3,106.6 440.7,107.6 441.1,108.3 441.5,107.6 441.9,106.4 442.3,107.5 442.7,107.2 443.1,107.6 443.5,109.0 443.9,107.0 444.3,107.2 444.7,106.4 445.1,107.0 445.5,106.7 445.9,108.8 446.3,107.6 446.7,106.7 447.1,109.1 447.5,106.0 447.9,108.1 448.3,108.3 448.7,107.9 449.1,107.1 449.5,107.2 449.9,107.0 450.3,108.1 450.7,105.1 451.1,106.9 451.5,107.5 451.9,106.9 452.3,105.7 452.7,107.2 453.1,106.8 453.5,108.3 453.9,108.9 454.3,107.7 454.7,105.8 455.1,107.5 455.5,106.9 455.9,108.4 456.3,109.5 456.7,108.2 457.1,109.9 457.5,109.4 457.9,108.7 458.3,107.2 458.7,108.3 459.1,106.9 459.5,109.2 459.9,108.4 460.3,109.6 460.7,108.6 461.1,106.5 461.5,109.0 461.9,109.3 462.3,110.0 462.7,107.5 463.1,107.6 463.5,108.5 463.9,107.5 464.3,107.2 464.7,107.5 465.1,111.0 465.5,107.9 465.9,107.5 466.3,108.1 466.7,108.5 467.1,109.8 467.5,109.4 467.9,109.3 468.3,108.6 468.7,108.7 469.1,108.0 469.5,107.1 469.9,110.5 470.3,108.0 470.7,109.2 471.1,107.7 471.5,107.6 471.9,107.2 472.4,106.0 472.7,107.5 473.1,108.5 473.5,109.7 473.9,110.1 474.3,111.1 474.7,110.9 475.1,111.0 475.5,109.5 475.9,111.2 476.3,113.4 476.7,112.4 477.1,113.4 477.5,112.8 477.9,112.8 478.3,115.7 478.7,114.5 479.1,115.8 479.5,115.1 479.9,114.5 480.3,112.7 480.7,114.9 481.1,113.4 481.5,112.8 481.9,116.2 482.3,115.7 482.7,115.7 483.1,115.2 483.5,115.1 483.9,115.6 484.3,115.4 484.7,115.3 485.1,116.0 485.5,113.0 485.9,116.2 486.3,114.8 486.7,116.2 487.1,116.5 487.5,114.6 487.9,116.2 488.3,116.2 488.7,114.8 489.1,115.0 489.5,115.6 489.9,113.4 490.3,115.1 490.7,115.7 491.1,115.2 491.5,114.1 491.9,115.2 492.3,117.1 492.7,116.9 493.1,115.5 493.5,114.9 493.9,115.6 494.3,115.7 494.7,115.0 495.1,115.4 495.5,116.3 495.9,116.6 496.3,113.4 496.7,116.6 497.1,115.8 497.5,116.8 497.9,115.7 498.3,116.1 498.7,117.3 499.1,112.9 499.5,117.2 499.9,115.9 500.3,114.0 500.7,113.2 501.1,116.0 501.5,114.7 501.9,116.6 502.3,115.8 502.7,115.5 503.1,116.5 503.5,115.7 503.9,116.2 504.3,116.3 504.7,115.8 505.1,116.2 505.5,116.1 505.9,114.0 506.3,115.0 506.7,115.1 507.1,114.8 507.5,113.6 507.9,114.6 508.3,115.4 508.7,115.2 509.1,116.4 509.5,114.3 509.9,114.5 510.3,114.3 510.7,114.4 511.1,114.1 511.5,112.8 511.9,114.8 512.3,115.3 512.7,115.4 513.1,113.2 513.5,113.9 513.9,115.8 514.3,113.8 514.7,114.2 515.1,113.6 515.5,114.6 515.9,114.5 516.3,115.8 516.7,114.0 517.1,114.0 517.5,112.4 517.9,113.2 518.3,112.9 518.7,113.3 519.1,112.5 519.5,114.9 519.9,112.9 520.3,114.2 520.7,112.9 521.1,114.5 521.5,115.8 521.9,113.5 522.3,114.7 522.7,114.4 523.1,114.7 523.5,114.9 523.9,113.9 524.3,114.3 524.7,113.9 525.1,113.7 525.5,113.3 525.9,115.3 526.3,113.6 526.7,114.9 527.1,114.7 527.5,113.2 527.9,115.0 528.3,113.1 528.7,114.3 529.1,114.9 529.5,112.7 529.9,112.2 530.3,111.9 530.7,114.7 531.1,111.9 531.5,110.7 531.9,112.4 532.3,111.1 532.7,110.9 533.1,109.8 533.5,108.4 533.9,109.6 534.3,109.1 534.7,108.1 535.1,107.9 535.5,106.6 535.9,106.0 536.3,103.1 536.6,102.0 537.1,103.7 537.5,106.2 537.9,109.9 538.3,111.4 538.7,112.7 539.1,112.2 539.5,112.5 539.9,113.1 540.3,112.1 540.7,112.4 541.1,113.9 541.5,112.1 541.9,113.3 542.3,114.2 542.7,113.7 543.1,113.9 543.5,112.5 543.9,113.4 544.3,113.3 544.7,114.2 545.1,114.0 545.5,113.7 545.9,115.5 546.3,114.2 546.7,113.4 547.1,113.1 547.5,113.6 547.9,113.1 548.3,115.2 548.7,114.2 549.1,113.4 549.5,113.1 549.9,112.7 550.3,113.4 550.7,114.9 551.1,114.5 551.5,113.6 551.9,113.8 552.3,111.9 552.7,114.4 553.1,113.5 553.5,115.0 553.9,113.5 554.3,113.2 554.7,113.8 555.1,113.0 555.5,114.9 555.9,113.9 556.3,114.0 556.7,113.9 557.1,113.2 557.5,114.0 557.9,113.7 558.3,115.2 558.7,113.6 559.1,113.9 559.5,113.1 559.9,113.1 560.3,113.2 560.7,114.7 561.1,113.5 561.5,114.4 561.9,113.2 562.3,113.1 562.7,111.6 563.1,114.2 563.5,115.3 563.9,113.1 564.3,114.7 564.7,114.1 565.1,112.6 565.5,114.0 565.9,112.4 566.3,112.9 566.7,114.3 567.1,113.3 567.5,112.0 567.9,114.4 568.3,111.9 568.7,112.8 569.1,112.5 569.5,112.7 569.9,111.9 570.3,111.1 570.7,114.2 571.1,111.4 571.5,111.2 571.9,109.2 572.3,110.9 572.7,110.8 573.1,108.8 573.5,107.3 573.9,104.5 574.3,105.0 574.7,107.4 575.1,110.8 575.5,110.6 575.9,111.5 576.3,110.8 576.7,112.1 577.1,114.0 577.5,112.1 577.9,112.6 578.3,110.0 578.7,113.6 579.1,112.7 579.5,113.7 579.9,112.6 580.3,111.5 580.7,111.0 581.1,112.8 581.5,112.3 581.9,111.4 582.3,112.2 582.7,111.6 583.1,112.9 583.5,111.8 583.9,111.0 584.3,112.1 584.7,111.6 585.1,113.5 585.5,111.6 585.9,110.8 586.3,111.9 586.7,111.7 587.1,112.2 587.5,112.1 587.9,110.9 588.3,111.8 588.7,111.7 589.1,110.6 589.5,111.2 589.9,111.9 590.3,110.2 590.7,110.6 591.1,111.2 591.5,111.5 591.9,112.0 592.3,110.2 592.7,111.8 593.1,112.0 593.5,112.9 593.9,111.0 594.3,110.5 594.7,109.8 595.1,111.8 595.5,112.5 595.9,110.6 596.3,111.6 596.7,112.0 597.1,112.0 597.5,110.7 597.9,111.7 598.3,111.0 598.7,110.1 599.1,111.2 599.5,111.3 599.9,110.0 600.3,111.3 600.7,112.8 601.1,109.4 601.5,111.5 601.9,111.6 602.3,110.8 602.7,111.0 603.1,110.4 603.5,111.9 603.9,109.7 604.3,110.4 604.7,108.6 605.1,110.7 605.5,110.7 605.9,108.7 606.3,109.4 606.7,110.7 607.1,109.7 607.5,109.0 607.9,107.7 608.3,110.3 608.7,111.8 609.1,109.5 609.5,110.3 609.9,110.2 610.3,109.7 610.7,109.8 611.1,109.8 611.5,108.8 611.9,111.9 612.3,112.1 612.7,109.7 613.1,111.1 613.5,108.6 613.9,109.1 614.3,110.3 614.7,108.1 615.1,107.9 615.5,109.4 615.9,107.2 616.3,110.6 616.7,109.7 617.1,109.1 617.5,109.5 617.9,107.9 618.3,107.9 618.7,109.5 619.1,109.5 619.5,108.7 619.9,108.5 620.3,108.0 620.7,109.8 621.1,107.0 621.5,107.5 621.9,107.7 622.3,106.7 622.7,106.9 623.1,107.1 623.5,108.9 623.9,109.6 624.3,108.2 624.7,106.2 625.1,107.1 625.5,107.5 625.9,107.3 626.3,107.1 626.7,107.9 627.1,105.5 627.5,106.7 627.9,107.3 628.3,107.7 628.7,107.3 629.1,106.9 629.5,106.7 629.9,106.1 630.3,106.8 630.7,106.4 631.1,105.9 631.5,107.6 631.9,107.5 632.3,106.0 632.7,106.8 633.1,107.3 633.5,106.4 633.9,106.1 634.3,106.4 634.7,104.3 635.1,104.4 635.5,106.1 635.9,105.8 636.3,106.7 636.7,104.7 637.1,106.0 637.5,105.7 637.9,106.3 638.3,103.2 638.7,103.1 639.1,102.9 639.5,101.9 639.9,99.1 640.3,97.1 640.7,92.6 641.1,89.9 641.5,78.3 641.9,65.6 642.3,52.5 642.6,49.3 643.1,59.8 643.5,72.4 643.9,84.1 644.3,94.0 644.7,97.9 645.1,100.5 645.5,102.0 645.9,103.8 646.3,104.2 646.7,105.9 647.1,105.7 647.5,106.2 647.9,106.9 648.3,106.6 648.7,108.1 649.1,110.6 649.5,107.9 649.9,107.1 650.3,109.8 650.7,108.9 651.1,111.1 651.5,109.7 651.9,110.4 652.3,108.9 652.7,108.2 653.1,109.7 653.5,110.6 653.9,109.2 654.3,108.6 654.7,109.5 655.1,109.6 655.5,109.5 655.9,109.3 656.3,110.9 656.7,107.3 657.1,104.8 657.5,102.0 658.0,102.2 658.3,100.7 658.7,106.0 659.1,107.1 659.5,107.5 659.9,110.4 660.3,111.0 660.7,112.8 661.1,110.6 661.5,112.4 661.9,112.5 662.3,113.5 662.7,111.7 663.1,112.2 663.5,114.9 663.9,113.7 664.3,111.9 664.7,113.7 665.1,112.7 665.5,112.9 665.9,112.4 666.3,114.6 666.7,113.2 667.1,113.9 667.5,113.7 667.9,112.2 668.3,112.9 668.7,114.2 669.1,111.9 669.5,113.6 669.9,113.1 670.3,113.7 670.7,113.5 671.1,113.4 671.5,112.4 671.9,112.1 672.3,110.7 672.7,110.1 673.1,110.3 673.5,107.1 673.9,105.8 674.3,101.0 674.7,91.7 675.1,82.4 675.5,71.4 675.7,70.9 675.9,71.4 676.3,82.1 676.7,92.5 677.1,99.0 677.5,106.7 677.9,108.5 678.3,107.8 678.7,110.8 679.1,110.8 679.5,113.7 679.9,112.1 680.3,112.8 680.7,112.5 681.1,113.4 681.5,112.4 681.9,112.2 682.3,112.6"/><polyline clip-path="url(#cLS)" fill="none" stroke="#e52a30" stroke-width="0.85" stroke-opacity="1.0" stroke-linejoin="round" points="355.5,33.3 355.9,32.6 356.3,40.5 356.7,43.9 357.1,49.3 357.5,53.2 357.9,59.5 358.3,62.3 358.7,65.3 359.1,69.3 359.5,71.7 359.9,73.4 360.3,75.7 360.7,78.6 361.1,80.7 361.5,81.5 361.9,83.5 362.3,83.9 362.7,88.9 363.1,88.6 363.5,91.4 363.9,91.8 364.3,94.4 364.7,95.1 365.1,94.9 365.5,96.9 365.9,95.4 366.3,98.2 366.7,96.2 367.1,98.5 367.5,99.8 367.9,99.5 368.3,99.4 368.7,99.4 369.1,100.3 369.5,102.0 369.9,102.2 370.3,101.5 370.7,100.9 371.1,103.1 371.5,101.4 371.9,102.5 372.3,102.7 372.7,104.4 373.1,104.2 373.5,104.7 373.9,104.8 374.3,104.2 374.7,105.6 375.1,106.7 375.5,105.6 375.9,106.5 376.3,106.0 376.7,107.3 377.1,107.2 377.5,107.5 377.9,107.2 378.3,108.6 378.7,106.9 379.1,107.1 379.5,107.1 379.9,108.3 380.3,107.3 380.7,107.4 381.1,108.8 381.5,109.3 381.9,108.8 382.3,105.7 382.7,107.4 383.1,107.3 383.5,107.2 383.9,108.0 384.3,110.2 384.7,108.1 385.1,107.8 385.5,109.1 385.9,108.5 386.3,108.6 386.7,107.8 387.1,108.4 387.5,108.8 387.9,106.6 388.3,106.8 388.7,109.3 389.1,109.0 389.5,107.7 389.9,107.1 390.3,107.8 390.7,106.8 391.1,107.5 391.5,109.3 391.9,107.8 392.3,108.7 392.7,107.3 393.1,107.8 393.5,108.6 393.9,105.9 394.3,106.8 394.7,106.9 395.1,107.2 395.5,108.3 395.9,107.3 396.3,105.1 396.7,106.1 397.1,105.4 397.5,105.2 397.9,107.8 398.3,104.7 398.7,105.7 399.1,104.6 399.5,105.9 399.9,105.2 400.3,104.7 400.7,104.3 401.1,105.3 401.5,103.1 401.9,103.1 402.3,102.5 402.7,104.6 403.1,102.9 403.5,102.0 403.9,102.4 404.3,105.0 404.7,102.4 405.1,103.2 405.5,102.7 405.9,102.1 406.3,101.3 406.7,101.5 407.1,101.3 407.5,99.4 407.9,103.9 408.3,102.2 408.7,101.3 409.1,100.8 409.5,100.2 409.9,101.7 410.3,100.5 410.7,101.1 411.1,99.2 411.5,100.8 411.9,102.3 412.3,100.1 412.7,101.1 413.1,100.3 413.5,101.4 413.9,101.4 414.3,100.5 414.7,100.0 415.1,100.9 415.5,100.7 415.9,100.2 416.3,101.4 416.7,101.5 417.1,100.3 417.5,101.2 417.9,104.2 418.3,102.4 418.7,101.8 419.1,104.2 419.5,101.5 419.9,99.7 420.3,100.3 420.7,100.7 421.1,102.4 421.5,103.2 421.9,100.2 422.3,103.4 422.7,101.2 423.1,102.6 423.5,102.8 423.9,102.8 424.3,102.3 424.7,102.5 425.1,101.2 425.5,102.4 425.9,102.9 426.3,102.7 426.7,104.1 427.1,102.3 427.5,101.5 427.9,101.7 428.3,99.3 428.7,96.4 429.1,93.3 429.5,93.5 429.9,88.3 430.3,82.5 430.7,74.6 431.1,70.3 431.3,71.1 431.5,70.5 431.9,74.4 432.3,82.2 432.7,90.3 433.1,92.8 433.5,94.9 433.9,97.7 434.3,100.3 434.7,103.7 435.1,104.0 435.5,104.0 435.9,104.1 436.3,105.8 436.7,106.2 437.1,106.2 437.5,106.8 437.9,106.7 438.3,109.4 438.7,105.7 439.1,108.3 439.5,107.5 439.9,109.3 440.3,108.6 440.7,109.4 441.1,109.8 441.5,109.7 441.9,110.6 442.3,108.5 442.7,111.0 443.1,110.0 443.5,110.8 443.9,112.1 444.3,111.8 444.7,112.8 445.1,109.0 445.5,110.4 445.9,112.4 446.3,110.5 446.7,111.6 447.1,113.5 447.5,112.9 447.9,111.3 448.3,112.8 448.7,113.1 449.1,112.6 449.5,112.6 449.9,112.9 450.3,111.5 450.7,113.1 451.1,112.2 451.5,113.5 451.9,113.7 452.3,112.5 452.7,114.0 453.1,113.9 453.5,113.6 453.9,114.4 454.3,113.5 454.7,113.6 455.1,114.0 455.5,113.9 455.9,115.1 456.3,111.8 456.7,113.9 457.1,112.3 457.5,113.8 457.9,114.6 458.3,114.4 458.7,115.4 459.1,114.8 459.5,112.0 459.9,113.6 460.3,116.2 460.7,116.3 461.1,114.9 461.5,113.4 461.9,117.0 462.3,113.0 462.7,115.4 463.1,115.1 463.5,115.5 463.9,114.2 464.3,115.0 464.7,116.4 465.1,115.0 465.5,114.2 465.9,115.6 466.3,115.8 466.7,115.6 467.1,115.1 467.5,116.4 467.9,115.8 468.3,114.9 468.7,116.3 469.1,116.1 469.5,116.3 469.9,114.6 470.3,115.6 470.7,116.8 471.1,117.3 471.5,116.8 471.9,116.7 472.3,117.3 472.7,117.6 473.1,118.4 473.5,117.3 473.9,116.3 474.3,117.4 474.7,115.1 475.1,117.1 475.5,116.7 475.9,117.1 476.3,117.6 476.7,117.3 477.1,115.9 477.5,117.0 477.9,116.6 478.3,117.4 478.7,117.8 479.1,116.5 479.5,118.2 479.9,118.8 480.3,117.3 480.7,118.3 481.1,116.2 481.5,117.1 481.9,118.6 482.3,116.0 482.7,117.3 483.1,116.9 483.5,118.9 483.9,118.9 484.3,117.3 484.7,118.0 485.1,115.4 485.5,118.7 485.9,118.3 486.3,119.3 486.7,115.7 487.1,118.4 487.5,117.7 487.9,115.6 488.3,117.5 488.7,118.1 489.1,118.9 489.5,118.4 489.9,117.7 490.3,118.7 490.7,118.2 491.1,117.7 491.5,117.3 491.9,118.5 492.3,118.5 492.7,120.1 493.1,117.9 493.5,119.9 493.9,118.7 494.3,119.5 494.7,117.6 495.1,117.6 495.5,118.2 495.9,119.3 496.3,118.6 496.7,119.2 497.1,118.8 497.5,119.5 497.9,118.7 498.3,118.0 498.7,119.0 499.1,118.6 499.5,120.2 499.9,118.4 500.3,118.6 500.7,118.2 501.1,119.6 501.5,119.3 501.9,119.1 502.3,117.3 502.7,117.1 503.1,118.8 503.5,119.2 503.9,119.9 504.3,116.8 504.7,118.3 505.1,116.9 505.5,117.6 505.9,118.3 506.3,119.4 506.7,118.0 507.1,117.8 507.5,118.2 507.9,119.7 508.3,120.7 508.7,117.0 509.1,118.2 509.5,118.0 509.9,119.5 510.3,118.8 510.7,119.9 511.1,117.5 511.5,118.4 511.9,118.0 512.3,117.3 512.7,118.2 513.1,117.2 513.5,120.4 513.9,118.8 514.3,117.4 514.7,117.8 515.1,120.0 515.5,117.9 515.9,119.0 516.3,118.8 516.7,119.3 517.1,118.9 517.5,118.0 517.9,117.7 518.3,116.5 518.7,118.1 519.1,118.3 519.5,117.8 519.9,118.0 520.3,117.0 520.7,120.1 521.1,117.6 521.5,117.0 521.9,117.4 522.3,117.8 522.7,118.6 523.1,115.6 523.5,118.3 523.9,117.2 524.3,117.6 524.7,118.6 525.1,118.3 525.5,116.9 525.9,117.4 526.3,119.1 526.7,118.6 527.1,118.0 527.5,117.0 527.9,117.8 528.3,117.1 528.7,116.0 529.1,115.4 529.5,116.7 529.9,116.3 530.3,116.8 530.7,114.9 531.1,116.4 531.5,114.4 531.9,115.6 532.3,114.7 532.7,113.3 533.1,112.8 533.5,113.4 533.9,113.1 534.3,114.2 534.7,112.5 535.1,111.4 535.5,112.2 535.9,112.7 536.3,110.1 536.7,105.3 537.0,104.7 537.5,108.0 537.9,110.1 538.3,112.7 538.7,114.0 539.1,114.1 539.5,115.0 539.9,115.4 540.3,116.4 540.7,115.2 541.1,116.6 541.5,115.6 541.9,115.9 542.3,115.6 542.7,120.6 543.1,118.0 543.5,118.1 543.9,117.6 544.3,116.6 544.7,116.9 545.1,117.1 545.5,117.3 545.9,117.4 546.3,118.3 546.7,114.0 547.1,116.3 547.5,117.4 547.9,116.4 548.3,116.6 548.7,118.1 549.1,116.9 549.5,118.4 549.9,116.6 550.3,116.8 550.7,115.6 551.1,114.7 551.5,116.1 551.9,116.6 552.3,116.1 552.7,115.2 553.1,117.0 553.5,116.4 553.9,116.3 554.3,115.6 554.7,117.8 555.1,117.6 555.5,116.5 555.9,116.1 556.3,116.4 556.7,117.7 557.1,118.7 557.5,116.1 557.9,115.6 558.3,114.3 558.7,118.6 559.1,114.9 559.5,116.7 559.9,116.3 560.3,117.1 560.7,115.0 561.1,114.2 561.5,115.9 561.9,116.1 562.3,116.8 562.7,114.0 563.1,115.2 563.5,115.3 563.9,114.3 564.3,115.4 564.7,116.2 565.1,115.4 565.5,114.0 565.9,115.7 566.3,116.1 566.7,115.8 567.1,116.0 567.5,113.6 567.9,115.6 568.3,115.7 568.7,114.7 569.1,114.9 569.5,114.2 569.9,116.0 570.3,114.5 570.7,113.7 571.1,114.6 571.5,114.3 571.9,114.5 572.3,112.5 572.7,111.7 573.1,111.1 573.5,110.8 573.9,107.9 574.3,107.3 574.7,110.8 575.1,111.5 575.5,111.3 575.9,113.0 576.3,113.4 576.7,114.5 577.1,115.4 577.5,115.3 577.9,115.0 578.3,113.9 578.7,114.5 579.1,114.3 579.5,115.7 579.9,113.7 580.3,113.8 580.7,115.7 581.1,114.8 581.5,113.8 581.9,114.4 582.3,114.4 582.7,114.4 583.1,115.0 583.5,114.6 583.9,114.0 584.3,113.7 584.7,112.5 585.1,113.7 585.5,115.2 585.9,114.3 586.3,113.5 586.7,113.8 587.1,113.2 587.5,114.3 587.9,115.9 588.3,115.7 588.7,115.1 589.1,114.7 589.5,113.8 589.9,112.8 590.3,113.9 590.7,113.5 591.1,114.7 591.5,114.0 591.9,113.3 592.3,114.3 592.7,116.6 593.1,113.0 593.5,114.9 593.9,114.3 594.3,113.7 594.7,113.0 595.1,113.7 595.5,113.9 595.9,114.4 596.3,114.3 596.7,113.9 597.1,113.0 597.5,113.9 597.9,113.1 598.3,112.6 598.7,114.4 599.1,112.9 599.5,112.3 599.9,113.5 600.3,111.6 600.7,113.3 601.1,113.8 601.5,112.9 601.9,113.5 602.3,115.3 602.7,114.6 603.1,114.1 603.5,113.7 603.9,112.6 604.3,112.9 604.7,112.8 605.1,113.0 605.5,113.1 605.9,112.1 606.3,114.4 606.7,111.8 607.1,113.1 607.5,113.7 607.9,112.7 608.3,112.0 608.7,112.6 609.1,114.4 609.5,113.1 609.9,112.2 610.3,113.0 610.7,112.2 611.1,110.5 611.5,112.5 611.9,113.2 612.3,113.3 612.7,112.1 613.1,110.7 613.5,113.2 613.9,111.8 614.3,112.6 614.7,113.0 615.1,112.2 615.5,111.7 615.9,111.2 616.3,111.3 616.7,111.7 617.1,111.2 617.5,111.9 617.9,109.7 618.3,110.5 618.7,111.4 619.1,110.8 619.5,110.9 619.9,110.3 620.3,111.9 620.7,112.8 621.1,110.3 621.5,112.3 621.9,109.8 622.3,111.2 622.7,109.2 623.1,111.5 623.5,111.0 623.9,111.1 624.3,112.0 624.7,111.4 625.1,110.8 625.5,110.0 625.9,110.7 626.3,110.0 626.7,110.2 627.1,112.0 627.5,111.3 627.9,110.7 628.3,111.0 628.7,109.0 629.1,110.4 629.5,108.7 629.9,109.6 630.3,110.5 630.7,110.5 631.1,110.7 631.5,110.1 631.9,110.0 632.3,109.9 632.7,111.1 633.1,111.0 633.5,108.3 633.9,109.7 634.3,110.7 634.7,109.2 635.1,109.5 635.5,108.6 635.9,107.9 636.3,109.0 636.7,108.3 637.1,108.3 637.5,106.7 637.9,106.6 638.3,107.2 638.7,106.2 639.1,106.4 639.5,103.7 639.9,103.8 640.3,101.1 640.7,96.9 641.1,91.6 641.5,82.5 641.9,71.8 642.3,62.2 642.6,58.2 643.1,66.7 643.5,78.4 643.9,85.8 644.3,95.1 644.7,98.7 645.1,102.1 645.5,104.6 645.9,106.2 646.3,108.2 646.7,107.5 647.1,109.9 647.5,108.8 647.9,109.5 648.3,110.0 648.7,109.0 649.1,108.7 649.5,110.0 649.9,110.6 650.3,110.7 650.7,109.4 651.1,111.0 651.5,108.5 651.9,107.0 652.3,107.8 652.6,107.6 653.1,106.4 653.5,109.3 653.9,108.3 654.3,110.2 654.7,112.7 655.1,111.9 655.5,111.2 655.9,110.7 656.3,108.5 656.7,108.0 657.1,105.9 657.5,101.8 658.0,101.2 658.3,102.4 658.7,104.8 659.1,107.8 659.5,109.3 659.9,109.9 660.3,111.9 660.7,110.6 661.1,112.2 661.5,114.2 661.9,115.1 662.3,114.0 662.7,111.5 663.1,115.2 663.5,114.6 663.9,114.1 664.3,115.1 664.7,115.0 665.1,113.4 665.5,113.4 665.9,115.7 666.3,112.6 666.7,115.4 667.1,115.1 667.5,115.7 667.9,116.4 668.3,116.0 668.7,116.2 669.1,115.4 669.5,115.0 669.9,115.4 670.3,114.3 670.7,113.3 671.1,113.8 671.5,112.1 671.9,112.7 672.3,114.7 672.7,112.6 673.1,110.9 673.5,108.9 673.9,105.2 674.3,102.1 674.7,95.0 675.1,86.2 675.5,77.6 675.7,76.0 675.9,75.7 676.3,87.6 676.7,96.2 677.1,102.6 677.5,106.6 677.9,109.9 678.3,112.3 678.7,112.7 679.1,111.7 679.5,112.1 679.9,111.4 680.3,114.1 680.7,114.8 681.1,115.5 681.5,114.6 681.9,115.4 682.3,113.8"/><polyline clip-path="url(#cTLS)" fill="none" stroke="#404040" stroke-width="0.85" stroke-opacity="0.9" stroke-linejoin="round" points="28.0,239.4 28.5,240.6 29.0,240.6 29.5,242.1 30.0,242.2 30.5,242.5 31.0,243.0 31.5,243.4 32.0,244.1 32.5,244.8 33.0,245.1 33.5,245.5 34.0,245.2 34.5,245.6 35.0,246.7 35.5,246.8 36.0,247.4 36.5,247.5 37.0,247.3 37.5,248.2 38.0,248.4 38.5,248.7 39.0,248.8 39.5,249.3 40.0,249.6 40.5,250.1 41.0,250.2 41.5,250.9 42.0,250.5 42.5,251.1 43.0,251.4 43.5,251.3 44.0,251.5 44.5,252.3 45.0,252.4 45.5,252.5 46.0,252.9 46.5,252.9 47.0,253.4 47.5,253.4 48.0,253.9 48.5,254.3 49.0,254.2 49.5,254.7 50.0,254.4 50.5,254.8 51.0,254.7 51.5,255.2 52.0,255.5 52.5,255.6 53.0,255.7 53.5,256.2 54.0,256.4 54.5,255.8 55.0,256.5 55.5,255.8 56.0,256.1 56.5,256.3 57.0,256.5 57.5,256.2 58.0,256.3 58.5,256.6 59.0,256.4 59.5,256.5 60.0,256.8 60.5,256.9 61.0,256.7 61.5,256.7 62.0,256.7 62.5,256.6 63.0,256.5 63.5,256.4 64.0,256.8 64.5,256.6 65.0,256.5 65.5,256.6 66.0,256.6 66.5,256.8 67.0,256.3 67.5,256.2 68.0,256.3 68.5,256.0 69.0,256.4 69.5,256.3 70.0,256.2 70.5,255.9 71.0,256.0 71.5,256.0 72.0,255.8 72.5,255.5 73.0,255.0 73.5,255.5 74.0,255.1 74.5,254.8 75.0,255.1 75.5,254.8 76.0,254.2 76.5,254.4 77.0,254.2 77.5,254.4 78.0,253.5 78.5,253.7 79.0,253.6 79.5,253.9 80.0,253.1 80.5,252.5 81.0,252.8 81.5,253.1 82.0,253.0 82.5,253.1 83.0,252.6 83.5,252.1 84.0,252.4 84.5,252.0 85.0,251.8 85.5,251.8 86.0,251.9 86.5,251.3 87.0,251.2 87.5,251.3 88.0,251.3 88.5,251.1 89.0,251.1 89.5,251.4 90.0,251.7 90.5,251.5 91.0,251.5 91.5,251.7 92.0,251.0 92.5,251.1 93.0,251.4 93.5,251.3 94.0,251.4 94.5,251.7 95.0,251.4 95.5,251.7 96.0,251.4 96.5,251.8 97.0,252.5 97.5,252.1 98.0,252.5 98.5,252.7 99.0,252.5 99.5,252.9 100.0,252.9 100.5,253.1 101.0,252.7 101.5,252.5 102.0,252.4 102.5,252.4 103.0,252.6 103.4,252.4 104.0,252.6 104.5,253.0 105.0,253.7 105.5,253.7 106.0,254.5 106.5,254.2 107.0,254.8 107.5,255.5 108.0,255.9 108.5,255.9 109.0,256.3 109.5,256.3 110.0,256.9 110.5,257.0 111.0,256.8 111.5,257.2 112.0,257.2 112.5,257.3 113.0,257.5 113.5,257.4 114.0,257.8 114.5,257.8 115.0,257.9 115.5,258.1 116.0,257.8 116.5,257.5 117.0,257.8 117.5,258.0 118.0,258.0 118.5,258.1 119.0,258.2 119.5,258.0 120.0,258.0 120.5,257.8 121.0,258.3 121.5,258.0 122.0,257.8 122.5,257.8 123.0,258.0 123.5,258.5 124.0,258.3 124.5,257.7 125.0,258.1 125.5,258.2 126.0,258.3 126.5,258.2 127.0,258.0 127.5,258.2 128.0,258.0 128.5,257.6 129.0,258.0 129.5,258.0 130.0,258.4 130.5,258.5 131.0,257.9 131.5,258.3 132.0,258.2 132.5,257.9 133.0,257.7 133.5,258.2 134.0,258.3 134.5,258.1 135.0,257.6 135.5,258.3 136.0,258.1 136.5,258.1 137.0,258.2 137.5,258.0 138.0,258.5 138.5,258.3 139.0,258.2 139.5,258.4 140.0,258.3 140.5,257.9 141.0,258.3 141.5,258.2 142.0,257.8 142.5,258.0 143.0,258.2 143.5,257.7 144.0,257.8 144.5,257.4 145.0,256.4 145.5,256.2 145.8,256.5 146.5,256.3 147.0,256.7 147.5,257.4 148.0,257.5 148.5,257.8 149.0,258.3 149.5,258.3 150.0,258.5 150.5,258.6 151.0,258.3 151.5,258.5 152.0,258.5 152.5,258.4 153.0,258.4 153.5,258.7 154.0,258.6 154.5,258.7 155.0,258.9 155.5,258.9 156.0,258.4 156.5,258.5 157.0,258.6 157.5,258.8 158.0,259.0 158.5,258.5 159.0,258.6 159.5,258.8 160.0,259.1 160.5,259.1 161.0,258.5 161.5,258.8 162.0,258.6 162.5,259.0 163.0,259.0 163.5,258.8 164.0,258.7 164.5,259.0 165.0,259.1 165.5,258.7 166.0,258.8 166.5,259.0 167.0,259.0 167.5,259.1 168.0,258.7 168.5,258.8 169.0,258.5 169.5,259.0 170.0,259.3 170.5,258.5 171.0,258.9 171.5,259.3 172.0,259.1 172.5,258.6 173.0,259.4 173.5,258.8 174.0,259.5 174.5,259.0 175.0,259.0 175.5,259.2 176.0,259.2 176.5,259.4 177.0,259.4 177.5,259.2 178.0,259.6 178.5,259.5 179.0,259.4 179.5,259.3 180.0,259.3 180.5,259.3 181.0,259.5 181.5,259.5 182.0,259.4 182.5,259.6 183.0,259.3 183.5,259.5 184.0,259.6 184.5,259.1 185.0,259.4 185.5,259.9 186.0,259.2 186.5,259.8 187.0,259.2 187.5,259.6 188.0,259.2 188.5,259.4 189.0,259.4 189.5,259.4 190.0,259.8 190.5,259.8 191.0,259.8 191.5,259.6 192.0,260.0 192.5,259.8 193.0,259.7 193.5,259.3 194.0,259.8 194.5,259.8 195.0,259.6 195.5,259.8 196.0,259.8 196.5,259.5 197.0,259.7 197.5,259.7 198.0,259.7 198.5,259.5 199.0,259.5 199.5,259.6 200.0,259.9 200.5,260.1 201.0,259.5 201.5,259.3 202.0,259.4 202.5,259.3 203.0,259.3 203.5,259.4 204.0,259.0 204.5,259.2 205.0,259.1 205.5,259.0 206.0,258.8 206.5,258.2 207.0,258.1 207.5,257.0 208.0,256.8 208.5,256.6 209.0,256.6 209.5,257.0 210.0,257.0 210.5,257.9 211.0,258.2 211.5,258.4 212.0,258.7 212.5,258.6 213.0,258.5 213.5,259.2 214.0,259.4 214.5,259.5 215.0,259.2 215.5,259.4 216.0,260.0 216.5,259.8 217.0,259.8 217.5,259.6 218.0,259.8 218.5,260.0 219.0,259.9 219.5,259.6 220.0,259.8 220.5,259.5 221.0,259.6 221.5,259.8 222.0,259.6 222.5,259.7 223.0,260.1 223.5,259.7 224.0,259.9 224.5,259.7 225.0,259.4 225.5,259.7 226.0,259.6 226.5,259.2 227.0,259.4 227.5,259.6 228.0,260.1 228.5,259.6 229.0,259.7 229.5,259.9 230.0,259.8 230.5,259.7 231.0,260.2 231.5,260.1 232.0,259.1 232.5,260.0 233.0,259.9 233.5,260.0 234.0,259.8 234.5,259.9 235.0,260.2 235.5,260.2 236.0,260.2 236.5,260.0 237.0,260.0 237.5,260.0 238.0,259.4 238.5,260.3 239.0,259.8 239.5,259.8 240.0,259.7 240.5,259.8 241.0,259.1 241.5,259.7 242.0,259.2 242.5,259.3 243.0,259.0 243.5,258.9 244.0,259.3 244.5,258.8 245.0,258.4 245.5,257.3 246.0,255.1 246.5,252.7 246.9,251.6 247.5,253.8 248.0,255.7 248.5,257.7 249.0,258.9 249.5,259.3 250.0,259.5 250.5,259.5 251.0,259.2 251.5,259.8 252.0,259.7 252.5,259.7 253.0,259.3 253.5,259.8 254.0,260.0 254.5,259.9 255.0,259.6 255.5,259.8 256.0,259.7 256.5,259.8 257.0,259.9 257.5,259.8 258.0,259.7 258.5,259.8 259.0,259.5 259.5,259.5 260.0,259.9 260.5,259.6 261.0,259.9 261.5,259.3 262.0,260.0 262.5,259.7 263.0,260.2 263.5,259.1 264.0,259.3 264.5,260.1 265.0,259.8 265.5,259.8 266.0,259.8 266.5,259.8 267.0,259.9 267.5,259.5 268.0,259.7 268.5,260.1 269.0,259.8 269.5,259.6 270.0,259.8 270.5,260.0 271.0,259.7 271.5,259.7 272.0,259.9 272.5,260.0 273.0,260.1 273.5,259.7 274.0,259.8 274.5,260.0 275.0,259.3 275.5,259.8 276.0,259.9 276.5,259.7 277.0,259.5 277.5,259.9 278.0,260.1 278.5,259.7 279.0,259.6 279.5,259.7 280.0,260.1 280.5,260.1 281.0,259.7 281.5,259.5 282.0,259.4 282.5,259.6 283.0,259.6 283.5,259.8 284.0,259.4 284.5,259.7 285.0,259.8 285.5,259.3 286.0,260.3 286.5,259.8 287.0,259.8 287.5,259.3 288.0,259.4 288.5,259.9 289.0,259.9 289.5,259.0 290.0,259.9 290.5,259.8 291.0,259.7 291.5,259.3 292.0,259.6 292.5,259.4 293.0,259.7 293.5,260.0 294.0,259.7 294.5,259.8 295.0,259.4 295.5,259.2 296.0,259.5 296.5,259.7 297.0,259.8 297.5,259.4 298.0,259.5 298.5,259.3 299.0,258.9 299.5,259.4 300.0,259.4 300.5,259.2 301.0,259.3 301.5,258.8 302.0,259.3 302.5,259.6 303.0,259.2 303.5,259.3 304.0,259.2 304.5,258.9 305.0,259.1 305.5,258.8 306.0,259.6 306.5,258.9 307.0,258.5 307.5,258.3 308.0,258.9 308.5,258.6 309.0,258.4 309.5,257.7 310.0,257.7 310.5,257.2 311.0,257.4 311.5,256.5 312.0,256.4 312.5,255.1 313.0,253.5 313.5,251.8 314.0,247.4 314.5,242.0 315.0,232.7 315.5,219.6 316.2,206.3 316.5,209.2 317.0,221.8 317.5,234.9 318.0,243.3 318.5,249.1 319.0,251.8 319.5,254.0 320.0,255.6 320.5,256.0 321.0,256.8 321.5,257.0 322.0,257.5 322.5,257.8 323.0,258.0 323.5,258.2 324.0,258.2 324.5,258.9 325.0,258.4 325.5,258.7 326.0,258.6 326.5,258.1 327.0,259.0 327.5,258.8 328.0,258.4 328.5,258.4 329.0,257.9 329.5,257.8 330.0,257.1 330.5,255.7 331.2,254.0 331.5,254.1 332.0,255.9 332.5,257.5 333.0,258.0 333.5,258.8 334.0,258.5 334.5,259.0 335.0,259.2 335.5,259.0 336.0,259.1 336.5,259.4 337.0,259.1 337.5,259.0 338.0,259.5 338.5,259.3 339.0,259.1 339.5,259.4 340.0,259.2 340.5,259.5 341.0,259.3 341.5,259.3 342.0,259.1 342.5,259.4 343.0,259.3 343.5,259.8 344.0,259.3 344.5,259.0 345.0,259.8 345.5,258.8 346.0,259.6 346.5,258.9 347.0,259.3 347.5,258.7 348.0,258.5 348.5,258.1 349.0,258.0 349.5,258.3 350.0,258.3 350.5,258.8 351.0,258.7 351.5,259.0 352.0,259.1 352.5,259.3 353.0,259.7 353.5,259.2 354.0,259.2 354.5,259.1 355.0,259.3 355.5,259.6"/><polyline clip-path="url(#cTLS)" fill="none" stroke="#3aa85c" stroke-width="0.85" stroke-opacity="0.9" stroke-linejoin="round" points="28.0,238.9 28.5,239.9 29.0,240.7 29.5,241.5 30.0,242.6 30.5,242.3 31.0,243.4 31.5,244.0 32.0,244.1 32.5,244.4 33.0,245.1 33.5,245.7 34.0,246.2 34.5,246.2 35.0,246.7 35.5,246.5 36.0,246.7 36.5,246.8 37.0,247.3 37.5,247.8 38.0,248.3 38.5,248.3 39.0,249.2 39.5,249.3 40.0,249.4 40.5,249.7 41.0,250.7 41.5,250.5 42.0,250.5 42.5,250.8 43.0,251.7 43.5,251.4 44.0,252.1 44.5,252.4 45.0,251.7 45.5,252.9 46.0,252.8 46.5,252.8 47.0,253.2 47.5,253.7 48.0,253.9 48.5,254.2 49.0,254.1 49.5,254.8 50.0,255.1 50.5,255.3 51.0,255.3 51.5,255.7 52.0,256.0 52.5,255.8 53.0,256.0 53.5,256.0 54.0,256.2 54.5,256.3 55.0,255.8 55.5,256.2 56.0,256.4 56.5,255.8 57.0,256.1 57.5,256.9 58.0,256.3 58.5,256.4 59.0,256.7 59.5,256.5 60.0,256.4 60.5,256.5 61.0,256.6 61.5,256.6 62.0,256.7 62.5,257.1 63.0,256.8 63.5,257.1 64.0,256.8 64.5,256.8 65.0,256.7 65.5,256.4 66.0,256.6 66.5,256.5 67.0,256.1 67.5,256.5 68.0,256.4 68.5,256.3 69.0,256.0 69.5,255.4 70.0,256.4 70.5,255.9 71.0,255.3 71.5,255.9 72.0,255.4 72.5,255.6 73.0,255.3 73.5,255.4 74.0,255.0 74.5,254.9 75.0,254.7 75.5,254.8 76.0,254.0 76.5,254.5 77.0,254.2 77.5,253.8 78.0,253.8 78.5,253.6 79.0,253.6 79.5,253.8 80.0,253.3 80.5,253.7 81.0,253.8 81.5,253.7 82.0,254.0 82.5,253.7 83.0,254.0 83.5,254.6 84.0,254.1 84.5,254.2 85.0,254.4 85.5,254.7 86.0,254.5 86.5,254.7 87.0,254.4 87.5,254.7 88.0,254.7 88.5,254.7 89.0,255.0 89.5,255.3 90.0,255.1 90.5,254.9 91.0,255.3 91.5,255.3 92.0,254.9 92.5,255.4 93.0,255.1 93.5,255.2 94.0,255.2 94.5,255.6 95.0,255.2 95.5,255.3 96.0,255.4 96.5,255.6 97.0,255.6 97.5,255.0 98.0,255.5 98.5,255.2 99.0,255.3 99.5,255.2 100.0,254.8 100.5,254.8 101.0,254.6 101.5,254.6 102.0,254.7 102.5,253.9 103.0,253.4 103.5,253.8 104.0,252.8 104.5,253.1 105.0,253.4 105.5,253.5 106.0,254.3 106.5,254.6 107.0,254.5 107.5,254.7 108.0,254.7 108.5,254.4 109.0,254.9 109.5,254.6 110.0,254.8 110.5,255.2 111.0,255.4 111.5,255.0 112.0,255.5 112.5,255.8 113.0,255.4 113.5,255.5 114.0,255.6 114.5,255.6 115.0,255.6 115.5,256.0 116.0,256.1 116.5,255.9 117.0,256.1 117.5,256.1 118.0,256.1 118.5,256.1 119.0,256.1 119.5,256.7 120.0,256.4 120.5,256.5 121.0,256.9 121.5,256.4 122.0,256.7 122.5,256.2 123.0,256.4 123.5,256.7 124.0,256.5 124.5,256.2 125.0,256.2 125.5,256.6 126.0,256.3 126.5,256.7 127.0,256.6 127.5,256.5 128.0,256.6 128.5,256.8 129.0,256.6 129.5,256.3 130.0,256.7 130.5,256.5 131.0,256.5 131.5,256.6 132.0,256.5 132.5,256.6 133.0,256.2 133.5,256.1 134.0,256.0 134.5,256.1 135.0,255.7 135.5,255.8 136.0,255.6 136.5,255.6 137.0,255.7 137.5,256.3 138.0,255.7 138.5,255.8 139.0,255.8 139.5,255.8 140.0,255.9 140.5,256.4 141.0,255.9 141.5,256.4 142.0,256.2 142.5,255.8 143.0,255.8 143.5,255.7 144.0,255.1 144.5,254.8 145.0,253.5 145.5,252.5 145.8,251.9 146.5,253.5 147.0,254.6 147.5,256.4 148.0,256.5 148.5,256.9 149.0,257.2 149.5,257.1 150.0,257.2 150.5,257.3 151.0,257.7 151.5,257.4 152.0,257.6 152.5,257.7 153.0,257.6 153.5,257.4 154.0,257.5 154.5,257.8 155.0,257.7 155.5,258.2 156.0,258.0 156.5,258.0 157.0,257.8 157.5,258.3 158.0,258.1 158.5,258.0 159.0,258.1 159.5,258.8 160.0,258.1 160.5,258.1 161.0,258.6 161.5,258.5 162.0,258.3 162.5,258.7 163.0,258.0 163.5,258.3 164.0,258.0 164.5,258.8 165.0,258.5 165.5,259.1 166.0,258.6 166.5,258.7 167.0,258.3 167.5,258.3 168.0,258.5 168.5,258.8 169.0,258.4 169.5,258.1 170.0,258.9 170.5,258.9 171.0,258.5 171.5,258.8 172.0,259.0 172.5,259.0 173.0,258.4 173.5,258.8 174.0,258.6 174.5,259.0 175.0,258.8 175.5,258.5 176.0,258.9 176.5,259.0 177.0,258.5 177.5,258.5 178.0,258.7 178.5,258.8 179.0,258.8 179.5,258.5 180.0,258.5 180.5,258.9 181.0,259.1 181.5,258.7 182.0,259.0 182.5,259.4 183.0,258.9 183.5,258.9 184.0,258.8 184.5,259.1 185.0,259.1 185.5,259.1 186.0,259.0 186.5,259.2 187.0,259.2 187.5,259.1 188.0,259.4 188.5,258.7 189.0,259.3 189.5,259.1 190.0,259.3 190.5,259.6 191.0,259.2 191.5,259.1 192.0,259.2 192.5,259.5 193.0,259.6 193.5,259.2 194.0,259.3 194.5,259.6 195.0,259.3 195.5,258.8 196.0,259.0 196.5,259.1 197.0,259.3 197.5,259.1 198.0,259.6 198.5,259.1 199.0,259.6 199.5,259.0 200.0,259.5 200.5,259.2 201.0,259.5 201.5,259.7 202.0,259.6 202.5,259.4 203.0,258.9 203.5,258.9 204.0,258.2 204.5,259.2 205.0,259.1 205.5,258.8 206.0,258.1 206.5,258.7 207.0,257.6 207.5,257.7 208.0,256.8 208.5,256.9 209.0,257.3 209.5,257.4 210.0,257.2 210.5,257.7 211.0,258.3 211.5,257.9 212.0,258.8 212.5,258.4 213.0,259.1 213.5,259.0 214.0,259.4 214.5,259.1 215.0,259.1 215.5,259.2 216.0,259.0 216.5,259.2 217.0,259.1 217.5,259.2 218.0,259.5 218.5,259.3 219.0,259.6 219.5,259.5 220.0,259.6 220.5,259.1 221.0,259.5 221.5,259.7 222.0,259.6 222.5,259.7 223.0,259.8 223.5,259.0 224.0,259.6 224.5,259.6 225.0,259.4 225.5,259.1 226.0,259.5 226.5,259.4 227.0,259.9 227.5,259.8 228.0,259.3 228.5,259.2 229.0,259.2 229.5,259.4 230.0,259.3 230.5,259.9 231.0,259.1 231.5,259.4 232.0,259.5 232.5,259.5 233.0,259.2 233.5,259.4 234.0,259.5 234.5,259.5 235.0,259.3 235.5,259.4 236.0,259.5 236.5,259.9 237.0,259.1 237.5,259.6 238.0,259.8 238.5,259.1 239.0,259.8 239.5,259.7 240.0,259.4 240.5,259.6 241.0,259.7 241.5,259.3 242.0,259.3 242.5,259.0 243.0,259.0 243.5,259.1 244.0,258.9 244.5,259.1 245.0,258.1 245.5,256.8 246.0,255.5 246.5,253.1 246.9,252.0 247.5,253.8 248.0,255.9 248.5,257.4 249.0,258.8 249.5,259.0 250.0,259.0 250.5,259.2 251.0,259.1 251.5,259.0 252.0,259.1 252.5,259.3 253.0,258.9 253.5,258.9 254.0,258.9 254.5,259.2 255.0,259.5 255.5,259.0 256.0,259.0 256.5,258.9 257.0,259.2 257.5,259.0 258.0,259.1 258.5,259.0 259.0,259.8 259.5,259.3 260.0,259.1 260.5,259.2 261.0,259.5 261.5,259.5 262.0,259.3 262.5,258.8 263.0,259.5 263.5,259.5 264.0,259.4 264.5,259.3 265.0,259.2 265.5,259.5 266.0,259.1 266.5,259.4 267.0,259.1 267.5,259.1 268.0,259.1 268.5,259.0 269.0,259.0 269.5,259.3 270.0,259.5 270.5,258.9 271.0,258.9 271.5,259.4 272.0,259.0 272.5,259.2 273.0,259.1 273.5,259.3 274.0,258.8 274.5,259.3 275.0,259.2 275.5,258.5 276.0,259.0 276.5,258.9 277.0,259.1 277.5,259.0 278.0,258.8 278.5,258.9 279.0,259.0 279.5,259.0 280.0,258.9 280.5,259.5 281.0,259.1 281.5,258.6 282.0,258.9 282.5,259.0 283.0,258.6 283.5,258.9 284.0,258.7 284.5,258.3 285.0,258.9 285.5,259.0 286.0,259.0 286.5,258.8 287.0,258.6 287.5,258.8 288.0,258.8 288.5,258.9 289.0,259.0 289.5,258.8 290.0,258.5 290.5,258.5 291.0,258.1 291.5,258.5 292.0,258.3 292.5,258.0 293.0,257.0 293.5,256.1 294.0,254.4 294.3,254.4 295.0,255.2 295.5,256.3 296.0,256.6 296.5,257.3 297.0,257.1 297.5,257.5 298.0,257.3 298.5,257.3 299.0,256.6 299.5,256.5 300.0,256.1 300.5,255.1 301.0,255.6 301.5,254.8 302.0,254.1 302.5,254.5 303.0,254.2 303.5,253.2 304.0,253.8 304.5,253.9 305.0,254.2 305.5,254.1 306.0,254.5 306.5,254.8 307.0,254.3 307.5,255.1 308.0,255.6 308.5,255.4 309.0,255.7 309.5,255.9 310.0,255.6 310.5,255.6 311.0,255.5 311.5,255.1 312.0,255.3 312.5,254.2 313.0,253.3 313.5,251.8 314.0,249.2 314.5,243.6 315.0,235.1 315.5,222.4 316.2,208.6 316.5,211.5 317.0,225.1 317.5,237.9 318.0,245.7 318.5,249.9 319.0,252.5 319.5,253.9 320.0,254.8 320.5,255.5 321.0,256.3 321.5,256.6 322.0,257.2 322.5,256.9 323.0,257.0 323.5,257.7 324.0,257.4 324.5,257.7 325.0,257.9 325.5,257.6 326.0,257.6 326.5,258.1 327.0,257.4 327.5,258.2 328.0,257.6 328.5,258.2 329.0,257.8 329.5,257.3 330.0,256.5 330.5,255.3 331.2,253.9 331.5,254.7 332.0,255.6 332.5,256.8 333.0,257.5 333.5,258.0 334.0,258.6 334.5,258.7 335.0,258.6 335.5,258.3 336.0,258.4 336.5,258.5 337.0,259.0 337.5,258.9 338.0,258.8 338.5,258.8 339.0,258.7 339.5,259.1 340.0,258.6 340.5,258.7 341.0,259.1 341.5,259.1 342.0,258.9 342.5,258.6 343.0,258.6 343.5,259.2 344.0,259.1 344.5,259.3 345.0,258.9 345.5,258.9 346.0,258.7 346.5,259.3 347.0,258.3 347.5,258.7 348.0,258.7 348.5,257.9 349.0,257.6 349.5,257.9 350.0,258.0 350.5,258.7 351.0,258.8 351.5,258.7 352.0,258.9 352.5,259.4 353.0,259.0 353.5,259.0 354.0,259.6 354.5,258.9 355.0,259.0 355.5,259.5"/><polyline clip-path="url(#cTLS)" fill="none" stroke="#e04a4a" stroke-width="0.85" stroke-opacity="0.9" stroke-linejoin="round" points="28.0,239.4 28.5,241.2 29.0,242.6 29.5,243.0 30.0,244.5 30.5,244.5 31.0,245.8 31.5,246.3 32.0,246.8 32.5,247.3 33.0,247.6 33.5,247.8 34.0,248.2 34.5,249.0 35.0,248.8 35.5,249.2 36.0,249.4 36.5,249.8 37.0,250.1 37.5,250.6 38.0,250.7 38.5,251.0 39.0,251.2 39.5,251.7 40.0,251.6 40.5,252.2 41.0,252.7 41.5,252.4 42.0,252.8 42.5,253.8 43.0,253.1 43.5,253.1 44.0,253.6 44.5,254.4 45.0,254.7 45.5,254.0 46.0,254.7 46.5,254.8 47.0,254.8 47.5,254.7 48.0,255.6 48.5,255.3 49.0,255.8 49.5,255.9 50.0,256.5 50.5,256.4 51.0,256.0 51.5,256.3 52.0,256.8 52.5,256.3 53.0,256.6 53.5,256.9 54.0,256.5 54.5,256.6 55.0,256.6 55.5,257.1 56.0,256.9 56.5,257.3 57.0,257.1 57.5,257.3 58.0,257.1 58.5,257.3 59.0,257.1 59.5,256.9 60.0,257.5 60.5,257.4 61.0,257.8 61.5,257.2 62.0,257.0 62.5,256.8 63.0,256.2 63.5,256.8 64.0,257.2 64.5,256.9 65.0,256.4 65.5,257.2 66.0,256.8 66.5,256.8 67.0,256.7 67.5,256.8 68.0,256.9 68.5,256.2 69.0,256.6 69.5,256.4 70.0,256.8 70.5,256.2 71.0,256.7 71.5,256.4 72.0,256.5 72.5,255.8 73.0,256.1 73.5,255.8 74.0,255.2 74.5,255.3 75.0,255.1 75.5,254.8 76.0,254.7 76.5,254.4 77.0,254.4 77.5,254.5 78.0,254.0 78.5,253.7 79.0,254.1 79.5,253.6 80.0,253.6 80.5,253.4 81.0,253.2 81.5,253.3 82.0,252.9 82.5,252.8 83.0,252.3 83.5,252.1 84.0,252.3 84.5,252.7 85.0,252.1 85.5,252.4 86.0,251.9 86.5,251.8 87.0,251.4 87.5,251.5 88.0,251.9 88.5,251.7 89.0,251.3 89.5,251.3 90.0,251.8 90.5,251.4 91.0,251.8 91.5,251.4 92.0,251.9 92.5,252.2 93.0,252.1 93.5,252.0 94.0,252.1 94.5,252.1 95.0,252.1 95.5,252.5 96.0,252.5 96.5,252.4 97.0,252.0 97.5,252.2 98.0,252.5 98.5,252.4 99.0,252.0 99.5,252.4 100.0,252.7 100.5,251.3 101.0,251.1 101.5,250.6 102.0,249.0 102.5,247.9 103.0,247.2 103.4,247.1 104.0,247.7 104.5,249.4 105.0,250.1 105.5,252.1 106.0,253.1 106.5,253.9 107.0,254.7 107.5,255.2 108.0,256.0 108.5,255.9 109.0,256.3 109.5,256.1 110.0,256.4 110.5,256.7 111.0,256.6 111.5,256.9 112.0,256.9 112.5,257.2 113.0,257.5 113.5,257.8 114.0,257.2 114.5,257.7 115.0,258.0 115.5,258.2 116.0,258.3 116.5,257.6 117.0,257.9 117.5,258.2 118.0,258.3 118.5,258.2 119.0,258.2 119.5,258.2 120.0,258.0 120.5,258.3 121.0,258.4 121.5,258.2 122.0,258.6 122.5,257.6 123.0,258.2 123.5,258.8 124.0,258.6 124.5,258.7 125.0,258.4 125.5,258.1 126.0,258.3 126.5,258.8 127.0,258.0 127.5,258.2 128.0,258.1 128.5,258.4 129.0,258.4 129.5,258.7 130.0,258.4 130.5,259.0 131.0,258.8 131.5,258.5 132.0,258.4 132.5,258.3 133.0,258.7 133.5,259.2 134.0,258.7 134.5,258.5 135.0,258.8 135.5,258.7 136.0,258.6 136.5,258.4 137.0,258.9 137.5,259.3 138.0,259.3 138.5,259.2 139.0,259.0 139.5,259.1 140.0,259.3 140.5,259.1 141.0,259.2 141.5,259.0 142.0,259.4 142.5,258.9 143.0,259.4 143.5,259.4 144.0,259.4 144.5,259.4 145.0,259.2 145.5,259.2 146.0,259.2 146.5,259.3 147.0,259.1 147.5,259.3 148.0,259.3 148.5,259.2 149.0,259.5 149.5,259.3 150.0,259.6 150.5,259.9 151.0,260.0 151.5,259.6 152.0,259.8 152.5,259.7 153.0,260.2 153.5,260.0 154.0,259.9 154.5,259.6 155.0,259.6 155.5,259.8 156.0,259.7 156.5,259.7 157.0,259.9 157.5,259.4 158.0,259.2 158.5,259.5 159.0,259.5 159.5,259.8 160.0,259.6 160.5,259.7 161.0,259.3 161.5,260.2 162.0,259.9 162.5,259.6 163.0,259.9 163.5,260.1 164.0,260.1 164.5,259.8 165.0,260.0 165.5,260.1 166.0,259.6 166.5,259.5 167.0,259.7 167.5,260.1 168.0,260.3 168.5,259.9 169.0,260.3 169.5,260.2 170.0,259.9 170.5,259.7 171.0,259.8 171.5,260.0 172.0,260.3 172.5,260.2 173.0,259.6 173.5,259.7 174.0,260.2 174.5,260.0 175.0,259.7 175.5,260.2 176.0,260.3 176.5,260.2 177.0,260.0 177.5,260.3 178.0,259.9 178.5,259.9 179.0,259.8 179.5,260.5 180.0,260.6 180.5,260.0 181.0,260.2 181.5,260.2 182.0,260.3 182.5,260.4 183.0,260.2 183.5,260.0 184.0,259.9 184.5,259.8 185.0,259.4 185.5,260.0 186.0,259.9 186.5,260.1 187.0,260.1 187.5,259.8 188.0,260.0 188.5,260.2 189.0,260.1 189.5,259.9 190.0,259.9 190.5,260.2 191.0,260.1 191.5,260.2 192.0,260.0 192.5,260.3 193.0,260.1 193.5,260.7 194.0,260.0 194.5,259.9 195.0,260.5 195.5,260.0 196.0,259.9 196.5,260.2 197.0,259.5 197.5,260.1 198.0,260.0 198.5,260.1 199.0,259.8 199.5,260.3 200.0,260.0 200.5,259.9 201.0,260.0 201.5,259.6 202.0,259.7 202.5,259.3 203.0,259.3 203.5,259.5 204.0,259.2 204.5,259.0 205.0,258.2 205.5,257.9 206.0,257.1 206.5,256.6 207.0,256.0 207.5,255.4 208.0,254.7 208.5,254.1 209.0,254.5 209.5,254.6 210.0,255.0 210.5,256.3 211.0,257.0 211.5,257.8 212.0,258.4 212.5,258.4 213.0,258.8 213.5,259.3 214.0,259.5 214.5,259.8 215.0,259.4 215.5,259.8 216.0,260.1 216.5,260.4 217.0,259.7 217.5,260.4 218.0,260.0 218.5,259.7 219.0,260.4 219.5,259.8 220.0,259.8 220.5,260.3 221.0,260.4 221.5,260.1 222.0,260.0 222.5,259.8 223.0,260.2 223.5,259.6 224.0,259.8 224.5,260.4 225.0,260.3 225.5,260.5 226.0,260.3 226.5,259.9 227.0,260.3 227.5,259.7 228.0,260.4 228.5,260.5 229.0,260.0 229.5,260.5 230.0,260.2 230.5,260.2 231.0,259.7 231.5,260.2 232.0,260.4 232.5,259.8 233.0,260.1 233.5,260.0 234.0,259.8 234.5,260.5 235.0,260.2 235.5,260.2 236.0,260.4 236.5,260.0 237.0,261.0 237.5,260.1 238.0,259.9 238.5,260.3 239.0,260.3 239.5,259.9 240.0,259.9 240.5,260.3 241.0,260.2 241.5,260.2 242.0,260.2 242.5,259.8 243.0,260.2 243.5,259.8 244.0,259.8 244.5,259.1 245.0,259.0 245.5,257.7 246.0,256.2 246.5,252.9 246.9,252.3 247.5,254.2 248.0,256.9 248.5,258.3 249.0,259.2 249.5,258.9 250.0,259.4 250.5,260.1 251.0,260.0 251.5,260.2 252.0,260.0 252.5,260.3 253.0,260.0 253.5,260.1 254.0,260.4 254.5,260.4 255.0,260.1 255.5,260.2 256.0,260.2 256.5,260.2 257.0,260.2 257.5,260.0 258.0,260.3 258.5,259.9 259.0,260.0 259.5,260.5 260.0,260.7 260.5,260.7 261.0,260.3 261.5,260.1 262.0,260.4 262.5,260.6 263.0,260.2 263.5,260.1 264.0,259.8 264.5,259.8 265.0,260.6 265.5,259.8 266.0,260.0 266.5,260.1 267.0,260.3 267.5,259.9 268.0,260.3 268.5,260.3 269.0,260.2 269.5,260.0 270.0,260.1 270.5,259.7 271.0,260.3 271.5,260.0 272.0,259.8 272.5,260.2 273.0,260.3 273.5,260.2 274.0,260.3 274.5,260.4 275.0,260.0 275.5,260.2 276.0,260.2 276.5,259.8 277.0,260.4 277.5,260.0 278.0,260.2 278.5,260.2 279.0,259.9 279.5,260.3 280.0,260.4 280.5,260.1 281.0,259.4 281.5,260.4 282.0,260.1 282.5,259.9 283.0,259.9 283.5,259.8 284.0,260.0 284.5,260.2 285.0,259.8 285.5,260.1 286.0,259.9 286.5,259.9 287.0,259.9 287.5,260.1 288.0,260.2 288.5,259.9 289.0,260.2 289.5,260.3 290.0,259.5 290.5,260.1 291.0,259.8 291.5,259.8 292.0,260.1 292.5,259.8 293.0,259.7 293.5,260.1 294.0,260.0 294.5,259.9 295.0,260.5 295.5,259.5 296.0,259.3 296.5,259.6 297.0,259.4 297.5,259.7 298.0,259.5 298.5,259.5 299.0,259.6 299.5,259.4 300.0,259.1 300.5,259.3 301.0,259.7 301.5,259.5 302.0,259.6 302.5,259.8 303.0,259.5 303.5,259.3 304.0,259.0 304.5,259.3 305.0,259.5 305.5,259.4 306.0,259.2 306.5,258.7 307.0,258.9 307.5,258.8 308.0,258.8 308.5,258.0 309.0,257.9 309.5,257.9 310.0,257.5 310.5,257.0 311.0,256.7 311.5,255.9 312.0,255.3 312.5,253.8 313.0,252.3 313.5,249.3 314.0,246.2 314.5,240.3 315.0,231.9 315.5,219.0 316.0,206.7 316.3,203.5 317.0,215.9 317.5,229.5 318.0,239.1 318.5,245.0 319.0,248.8 319.5,251.9 320.0,253.8 320.5,255.0 321.0,255.7 321.5,256.4 322.0,257.3 322.5,257.5 323.0,257.4 323.5,257.6 324.0,258.2 324.5,258.4 325.0,258.2 325.5,258.3 326.0,258.8 326.5,258.6 327.0,258.9 327.5,258.4 328.0,258.4 328.5,258.2 329.0,258.3 329.5,257.6 330.0,256.3 330.5,255.5 331.2,254.2 331.5,254.5 332.0,256.1 332.5,257.3 333.0,258.2 333.5,258.6 334.0,258.7 334.5,258.9 335.0,259.1 335.5,259.6 336.0,259.1 336.5,259.2 337.0,259.4 337.5,259.5 338.0,259.7 338.5,259.8 339.0,259.4 339.5,259.9 340.0,259.6 340.5,259.3 341.0,259.2 341.5,259.4 342.0,259.4 342.5,259.7 343.0,259.3 343.5,259.3 344.0,259.3 344.5,259.5 345.0,259.1 345.5,259.6 346.0,259.2 346.5,259.2 347.0,259.2 347.5,258.9 348.0,259.1 348.5,257.9 349.0,257.5 349.5,257.8 350.0,258.7 350.5,258.5 351.0,259.3 351.5,259.2 352.0,259.6 352.5,259.1 353.0,259.8 353.5,259.8 354.0,259.3 354.5,259.9 355.0,260.2 355.5,259.6"/><polyline clip-path="url(#cDZ)" fill="none" stroke="#333333" stroke-width="0.85" stroke-opacity="1.0" stroke-linejoin="round" points="355.5,168.6 355.9,170.2 356.3,171.4 356.7,170.9 357.1,173.5 357.5,173.9 357.9,175.3 358.3,175.7 358.7,177.5 359.1,176.6 359.5,180.3 359.9,181.0 360.3,180.6 360.7,183.1 361.1,184.3 361.5,183.7 361.9,187.5 362.3,188.1 362.7,190.2 363.1,191.6 363.5,193.5 363.9,195.8 364.3,197.6 364.7,197.8 365.1,200.9 365.5,201.6 365.9,203.4 366.3,205.9 366.7,208.7 367.1,210.1 367.5,210.5 367.9,212.0 368.3,213.4 368.7,215.8 369.1,218.0 369.5,218.5 369.9,220.3 370.3,221.2 370.7,223.5 371.1,221.3 371.5,222.3 371.9,225.2 372.3,227.0 372.7,227.1 373.1,228.8 373.5,228.2 373.9,228.9 374.3,230.2 374.7,232.3 375.1,232.8 375.5,232.0 375.9,233.5 376.3,233.2 376.7,234.4 377.1,233.8 377.5,235.2 377.9,234.8 378.3,235.7 378.7,235.2 379.1,235.0 379.5,235.7 379.9,235.0 380.3,235.1 380.7,234.3 381.1,234.9 381.5,233.0 381.9,234.1 382.3,234.1 382.7,232.1 383.1,233.5 383.5,233.2 383.9,231.1 384.3,228.8 384.7,227.8 385.1,228.4 385.5,229.4 385.9,227.4 386.3,226.7 386.7,224.9 387.1,223.4 387.5,223.5 387.9,221.2 388.3,221.1 388.7,220.7 389.1,219.2 389.5,218.6 389.9,216.5 390.3,216.2 390.7,214.5 391.1,211.0 391.5,209.6 391.9,207.5 392.3,206.2 392.7,203.1 393.1,200.2 393.5,197.3 393.9,195.0 394.3,192.6 394.7,188.3 395.1,184.5 395.5,183.7 395.9,180.0 396.3,177.3 396.7,174.1 397.1,170.3 397.5,167.0 397.9,166.0 398.3,163.5 398.7,164.5 399.1,167.3 399.5,170.9 399.9,174.3 400.3,179.0 400.7,182.6 401.1,186.6 401.5,191.3 401.9,196.6 402.3,196.9 402.7,203.0 403.1,206.6 403.5,208.1 403.9,212.2 404.3,214.4 404.7,215.9 405.1,217.8 405.5,218.6 405.9,223.2 406.3,225.3 406.7,226.1 407.1,225.7 407.5,227.4 407.9,228.3 408.3,227.8 408.7,228.8 409.1,230.1 409.5,229.6 409.9,228.7 410.3,229.6 410.7,231.3 411.1,231.1 411.5,231.4 411.9,233.3 412.3,232.3 412.7,231.8 413.1,232.7 413.5,235.0 413.9,232.1 414.3,235.1 414.7,235.1 415.1,233.8 415.5,233.9 415.9,235.8 416.3,235.0 416.7,234.5 417.1,237.0 417.5,235.7 417.9,236.1 418.3,236.1 418.7,236.0 419.1,236.6 419.5,236.3 419.9,237.4 420.3,238.0 420.7,238.2 421.1,238.5 421.5,238.9 421.9,238.2 422.3,237.0 422.7,238.5 423.1,236.1 423.5,236.9 423.9,237.9 424.3,236.0 424.7,239.0 425.1,236.6 425.5,236.1 425.9,236.7 426.3,236.6 426.7,237.2 427.1,237.0 427.5,237.9 427.9,236.4 428.3,236.1 428.7,234.0 429.1,234.0 429.5,230.7 429.9,226.6 430.3,226.2 430.7,220.5 431.2,218.5 431.5,219.7 431.9,224.5 432.3,226.6 432.7,231.4 433.1,235.3 433.5,238.8 433.9,238.3 434.3,239.8 434.7,239.9 435.1,243.3 435.5,241.9 435.9,242.5 436.3,243.3 436.7,242.9 437.1,244.5 437.5,244.1 437.9,247.4 438.3,246.6 438.7,247.3 439.1,249.2 439.5,247.5 439.9,250.3 440.3,250.7 440.7,248.8 441.1,250.4 441.5,249.8 441.9,250.9 442.3,250.3 442.7,249.5 443.1,251.1 443.5,250.4 443.9,250.9 444.3,251.8 444.7,252.2 445.1,251.7 445.5,249.9 445.9,252.0 446.3,251.2 446.7,252.6 447.1,251.6 447.5,253.2 447.9,252.5 448.3,252.1 448.7,252.5 449.1,250.6 449.5,252.9 449.9,252.6 450.3,251.5 450.7,253.1 451.1,253.1 451.5,253.2 451.9,252.8 452.3,253.8 452.7,253.9 453.1,253.3 453.5,253.3 453.9,253.0 454.3,252.9 454.7,254.2 455.1,253.2 455.5,252.4 455.9,254.1 456.3,254.9 456.7,253.7 457.1,254.8 457.5,254.5 457.9,253.0 458.3,254.3 458.7,253.9 459.1,254.6 459.5,251.3 459.9,254.6 460.3,254.5 460.7,252.9 461.1,254.7 461.5,253.5 461.9,253.8 462.3,254.4 462.7,254.8 463.1,253.7 463.5,254.1 463.9,253.9 464.3,252.7 464.7,254.8 465.1,253.9 465.5,253.1 465.9,253.8 466.3,253.0 466.7,251.5 467.1,252.4 467.5,250.7 467.9,250.3 468.3,249.5 468.7,248.4 469.1,248.4 469.5,246.5 469.9,246.6 470.3,247.0 470.7,248.3 471.1,250.8 471.5,251.6 471.9,251.3 472.3,252.2 472.7,252.9 473.1,255.3 473.5,253.2 473.9,254.7 474.3,253.1 474.7,254.6 475.1,256.3 475.5,254.0 475.9,256.4 476.3,253.8 476.7,255.9 477.1,255.0 477.5,256.3 477.9,256.4 478.3,257.7 478.7,257.4 479.1,257.6 479.5,257.2 479.9,258.4 480.3,257.4 480.7,257.8 481.1,258.0 481.5,259.3 481.9,261.0 482.3,258.9 482.7,260.9 483.1,258.2 483.5,258.6 483.9,259.8 484.3,260.0 484.7,260.2 485.1,261.0 485.5,259.4 485.9,260.7 486.3,260.0 486.7,257.1 487.1,258.9 487.5,259.4 487.9,260.1 488.3,260.6 488.7,259.9 489.1,261.4 489.5,259.3 489.9,260.3 490.3,261.2 490.7,259.3 491.1,261.6 491.5,261.4 491.9,260.4 492.3,260.6 492.7,260.5 493.1,260.7 493.5,261.9 493.9,261.2 494.3,259.5 494.7,259.3 495.1,261.4 495.5,258.4 495.9,259.4 496.3,260.3 496.7,260.9 497.1,262.2 497.5,261.1 497.9,264.3 498.3,261.2 498.7,261.8 499.1,262.0 499.5,260.9 499.9,261.9 500.3,261.6 500.7,261.2 501.1,260.4 501.5,260.6 501.9,261.7 502.3,261.0 502.7,261.4 503.1,261.4 503.5,261.2 503.9,261.0 504.3,261.5 504.7,261.7 505.1,262.2 505.5,261.4 505.9,260.4 506.3,260.3 506.7,261.5 507.1,259.4 507.5,260.4 507.9,261.8 508.3,260.5 508.7,260.2 509.1,262.0 509.5,258.3 509.9,260.7 510.3,260.3 510.7,260.3 511.1,261.6 511.5,262.1 511.9,261.7 512.3,261.2 512.7,260.9 513.1,260.4 513.5,260.6 513.9,259.0 514.3,260.0 514.7,261.0 515.1,260.3 515.5,261.2 515.9,258.9 516.3,259.8 516.7,259.4 517.1,261.3 517.5,260.0 517.9,259.9 518.3,259.0 518.7,259.7 519.1,259.1 519.5,259.5 519.9,262.1 520.3,258.9 520.7,259.7 521.1,259.0 521.5,261.0 521.9,258.7 522.3,258.7 522.7,259.7 523.1,260.7 523.5,259.2 523.9,258.3 524.3,256.2 524.7,255.0 525.1,258.1 525.5,258.0 525.9,258.8 526.3,257.9 526.7,257.0 527.1,258.1 527.5,258.2 527.9,255.6 528.3,256.6 528.7,256.4 529.1,254.0 529.5,254.6 529.9,253.5 530.3,254.1 530.7,253.4 531.1,249.9 531.5,251.1 531.9,252.0 532.3,250.5 532.7,248.3 533.1,248.1 533.5,246.8 533.9,247.4 534.3,245.1 534.7,246.8 535.1,245.8 535.5,246.1 535.9,245.0 536.3,244.5 536.7,244.1 537.1,243.6 537.5,241.2 537.9,243.7 538.3,242.9 538.7,242.0 539.1,246.4 539.5,245.6 539.9,244.6 540.3,246.8 540.7,246.9 541.1,246.2 541.5,246.8 541.9,243.5 542.3,244.6 542.7,242.0 543.1,242.9 543.5,242.8 543.9,242.1 544.3,245.9 544.7,243.0 545.1,244.8 545.5,247.1 545.9,247.9 546.3,250.7 546.7,249.9 547.1,252.5 547.5,251.6 547.9,253.4 548.3,254.1 548.7,254.1 549.1,255.4 549.5,255.7 549.9,258.0 550.3,258.8 550.7,256.7 551.1,257.7 551.5,258.5 551.9,258.1 552.3,259.6 552.7,260.3 553.1,256.1 553.5,257.5 553.9,259.4 554.3,258.7 554.7,257.6 555.1,258.1 555.5,258.5 555.9,260.0 556.3,257.6 556.7,258.7 557.1,260.0 557.5,259.6 557.9,258.5 558.3,258.4 558.7,257.0 559.1,257.0 559.5,257.7 559.9,259.1 560.3,258.9 560.7,259.1 561.1,258.5 561.5,258.2 561.9,257.5 562.3,256.6 562.7,258.6 563.1,257.1 563.5,255.9 563.9,258.2 564.3,257.9 564.7,260.3 565.1,257.9 565.5,258.6 565.9,257.3 566.3,259.1 566.7,258.8 567.1,257.9 567.5,259.0 567.9,257.7 568.3,259.6 568.7,258.7 569.1,259.5 569.5,258.3 569.9,258.4 570.3,259.0 570.7,259.9 571.1,259.2 571.5,256.6 571.9,259.3 572.3,258.3 572.7,258.4 573.1,257.9 573.5,255.8 573.9,251.5 574.3,249.1 574.5,249.5 574.7,250.5 575.1,251.6 575.5,254.5 575.9,256.0 576.3,258.4 576.7,257.9 577.1,261.2 577.5,260.0 577.9,260.6 578.3,260.1 578.7,259.1 579.1,257.3 579.5,261.2 579.9,260.2 580.3,258.1 580.7,262.7 581.1,260.8 581.5,261.6 581.9,259.9 582.3,258.5 582.7,259.5 583.1,261.1 583.5,258.4 583.9,259.9 584.3,261.6 584.7,261.6 585.1,260.7 585.5,258.2 585.9,260.4 586.3,262.0 586.7,261.6 587.1,260.4 587.5,261.2 587.9,261.4 588.3,260.5 588.7,260.2 589.1,260.3 589.5,260.1 589.9,260.9 590.3,260.9 590.7,261.5 591.1,261.5 591.5,260.8 591.9,258.9 592.3,261.5 592.7,260.1 593.1,262.6 593.5,260.6 593.9,263.0 594.3,261.5 594.7,262.5 595.1,261.0 595.5,261.3 595.9,260.4 596.3,260.3 596.7,260.3 597.1,261.5 597.5,259.6 597.9,261.7 598.3,260.4 598.7,261.2 599.1,259.7 599.5,260.6 599.9,258.9 600.3,259.9 600.7,260.3 601.1,259.4 601.5,260.1 601.9,260.4 602.3,260.4 602.7,258.3 603.1,259.9 603.5,259.9 603.9,259.3 604.3,259.1 604.7,261.8 605.1,260.7 605.5,260.8 605.9,260.9 606.3,258.7 606.7,259.2 607.1,257.5 607.5,259.2 607.9,257.0 608.3,257.9 608.7,259.0 609.1,258.5 609.5,256.8 609.9,256.6 610.3,258.4 610.7,257.3 611.1,256.0 611.5,256.1 611.9,255.6 612.3,254.0 612.7,254.1 613.1,252.2 613.5,254.0 613.9,253.6 614.3,254.2 614.7,253.9 615.1,252.2 615.5,253.9 615.9,251.5 616.3,252.9 616.7,251.4 617.1,251.3 617.5,250.8 617.9,252.0 618.3,254.3 618.7,252.5 619.1,252.9 619.5,252.3 619.9,253.3 620.3,253.6 620.7,253.6 621.1,254.7 621.5,253.7 621.9,254.3 622.3,255.7 622.7,255.1 623.1,254.0 623.5,256.1 623.9,255.7 624.3,254.4 624.7,254.5 625.1,254.9 625.5,256.1 625.9,255.6 626.3,256.2 626.7,257.6 627.1,256.9 627.5,255.3 627.9,254.5 628.3,256.5 628.7,254.4 629.1,254.3 629.5,254.9 629.9,255.3 630.3,254.7 630.7,255.2 631.1,252.3 631.5,254.4 631.9,254.8 632.3,255.3 632.7,254.9 633.1,254.3 633.5,256.8 633.9,255.3 634.3,254.8 634.7,254.4 635.1,254.4 635.5,253.1 635.9,252.7 636.3,253.6 636.7,251.6 637.1,253.4 637.5,252.1 637.9,252.7 638.3,251.6 638.7,250.0 639.1,249.2 639.5,248.4 639.9,248.5 640.3,246.3 640.7,241.2 641.1,235.7 641.5,225.4 641.9,213.3 642.3,195.2 642.7,185.4 643.1,193.5 643.5,211.9 643.9,227.1 644.3,234.6 644.7,239.2 645.1,242.5 645.5,244.8 645.9,244.5 646.3,248.3 646.7,247.6 647.1,246.8 647.5,246.1 647.9,249.4 648.3,249.5 648.7,250.8 649.1,250.5 649.5,249.2 649.9,248.1 650.3,250.0 650.7,249.4 651.1,250.2 651.5,248.7 651.9,250.1 652.3,250.4 652.7,249.6 653.1,249.3 653.5,249.1 653.9,251.4 654.3,252.7 654.7,251.6 655.1,249.2 655.5,251.7 655.9,250.1 656.3,251.7 656.7,252.6 657.1,250.1 657.5,245.2 657.9,245.3 658.3,240.7 658.7,240.4 659.1,241.7 659.5,246.5 659.9,248.2 660.3,254.1 660.7,253.4 661.1,253.9 661.5,257.1 661.9,257.9 662.3,259.1 662.7,259.2 663.1,258.8 663.5,259.1 663.9,259.8 664.3,259.5 664.7,259.7 665.1,257.3 665.5,259.2 665.9,258.9 666.3,259.8 666.7,258.5 667.1,260.2 667.5,259.9 667.9,258.1 668.3,259.2 668.7,259.6 669.1,258.0 669.5,256.7 669.9,258.7 670.3,259.0 670.7,258.7 671.1,259.5 671.5,258.5 671.9,259.5 672.3,257.1 672.7,258.8 673.1,256.3 673.5,256.2 673.9,252.7 674.3,251.8 674.7,250.5 675.1,244.1 675.5,235.6 675.9,222.7 676.3,213.8 676.5,210.4 676.7,214.5 677.1,224.4 677.5,235.1 677.9,243.3 678.3,248.9 678.7,253.0 679.1,254.8 679.5,254.2 679.9,257.0 680.3,256.2 680.7,259.5 681.1,256.3 681.5,259.2 681.9,257.4 682.3,259.1"/><polyline clip-path="url(#cDZ)" fill="none" stroke="#2fab50" stroke-width="0.85" stroke-opacity="1.0" stroke-linejoin="round" points="355.5,152.4 355.9,153.9 356.3,154.8 356.7,157.2 357.1,157.8 357.5,158.6 357.9,163.9 358.3,164.7 358.7,164.3 359.1,167.3 359.5,169.8 359.9,172.8 360.3,175.9 360.7,177.1 361.1,178.7 361.5,181.9 361.9,183.6 362.3,186.3 362.7,187.7 363.1,189.4 363.5,193.9 363.9,194.5 364.3,197.1 364.7,198.4 365.1,200.5 365.5,202.5 365.9,205.2 366.3,207.3 366.7,208.2 367.1,208.6 367.5,213.1 367.9,212.5 368.3,213.9 368.7,213.7 369.1,215.2 369.5,217.1 369.9,216.1 370.3,218.1 370.7,220.4 371.1,223.4 371.5,222.7 371.9,222.4 372.3,223.2 372.7,226.3 373.1,225.5 373.5,226.8 373.9,229.7 374.3,228.5 374.7,228.8 375.1,229.0 375.5,231.6 375.9,232.2 376.3,230.8 376.7,230.5 377.1,232.0 377.5,233.6 377.9,232.8 378.3,231.1 378.7,232.3 379.1,232.4 379.5,231.1 379.9,230.8 380.3,230.0 380.7,229.0 381.1,228.2 381.5,226.8 381.9,226.1 382.3,224.7 382.7,225.7 383.1,224.6 383.5,223.0 383.9,222.1 384.3,220.4 384.7,218.3 385.1,217.8 385.5,215.8 385.9,214.2 386.3,210.6 386.7,210.3 387.1,209.3 387.5,206.7 387.9,204.5 388.3,202.2 388.7,201.6 389.1,202.1 389.5,198.6 389.9,198.7 390.3,195.7 390.7,195.5 391.1,192.2 391.5,191.1 391.9,189.5 392.3,187.8 392.7,184.8 393.1,183.8 393.5,182.2 393.9,183.0 394.3,184.6 394.7,186.7 395.1,189.9 395.5,191.0 395.9,194.1 396.3,197.1 396.7,200.0 397.1,201.9 397.5,205.5 397.9,206.3 398.3,211.3 398.7,211.9 399.1,215.1 399.5,214.9 399.9,217.6 400.3,219.9 400.7,223.2 401.1,223.4 401.5,226.4 401.9,225.9 402.3,229.6 402.7,229.1 403.1,229.8 403.5,231.3 403.9,234.9 404.3,235.7 404.7,237.0 405.1,237.2 405.5,238.2 405.9,239.7 406.3,238.4 406.7,239.2 407.1,238.8 407.5,237.8 407.9,239.4 408.3,241.4 408.7,239.4 409.1,242.6 409.5,241.2 409.9,241.3 410.3,242.1 410.7,241.5 411.1,241.7 411.5,243.2 411.9,241.5 412.3,242.3 412.7,241.6 413.1,243.0 413.5,246.0 413.9,244.5 414.3,242.7 414.7,242.1 415.1,244.5 415.5,244.9 415.9,243.8 416.3,245.9 416.7,245.2 417.1,245.8 417.5,246.0 417.9,246.6 418.3,245.3 418.7,245.2 419.1,247.3 419.5,246.0 419.9,245.1 420.3,246.7 420.7,245.9 421.1,246.6 421.5,249.3 421.9,248.0 422.3,245.8 422.7,245.0 423.1,246.1 423.5,245.1 423.9,246.2 424.3,246.2 424.7,246.4 425.1,245.7 425.5,244.2 425.9,245.2 426.3,245.3 426.7,245.2 427.1,245.8 427.5,243.3 427.9,243.5 428.3,242.3 428.7,240.8 429.1,240.3 429.5,236.4 429.9,235.2 430.3,226.6 430.7,226.1 431.2,221.9 431.5,222.0 431.9,227.1 432.3,231.7 432.7,236.8 433.1,240.3 433.5,240.8 433.9,243.2 434.3,244.6 434.7,245.3 435.1,245.4 435.5,247.4 435.9,246.8 436.3,245.5 436.7,247.3 437.1,247.1 437.5,247.2 437.9,248.5 438.3,248.5 438.7,248.4 439.1,248.7 439.5,249.3 439.9,248.0 440.3,248.9 440.7,250.1 441.1,248.5 441.5,248.8 441.9,248.8 442.3,250.5 442.7,249.2 443.1,250.8 443.5,249.5 443.9,250.2 444.3,250.4 444.7,249.8 445.1,249.4 445.5,251.4 445.9,250.2 446.3,251.2 446.7,251.4 447.1,249.6 447.5,252.2 447.9,251.3 448.3,251.0 448.7,251.1 449.1,251.1 449.5,251.8 449.9,253.7 450.3,251.7 450.7,250.8 451.1,251.6 451.5,253.9 451.9,252.0 452.3,253.8 452.7,251.2 453.1,251.1 453.5,250.6 453.9,250.7 454.3,251.3 454.7,251.3 455.1,249.3 455.5,249.8 455.9,249.7 456.3,249.8 456.7,250.9 457.1,250.3 457.5,248.3 457.9,247.7 458.3,245.2 458.7,245.4 459.1,242.5 459.5,243.2 459.9,242.5 460.3,241.9 460.7,239.9 461.1,238.9 461.5,237.2 461.9,235.4 462.3,236.6 462.7,235.3 463.1,237.1 463.5,237.7 463.9,237.5 464.3,238.0 464.7,240.5 465.1,241.1 465.5,243.1 465.9,244.4 466.3,246.0 466.7,246.3 467.1,245.4 467.5,247.2 467.9,250.2 468.3,248.3 468.7,249.7 469.1,252.1 469.5,252.2 469.9,251.6 470.3,253.1 470.7,252.6 471.1,254.5 471.5,253.9 471.9,254.5 472.3,254.9 472.7,253.2 473.1,255.3 473.5,256.1 473.9,256.1 474.3,255.8 474.7,256.5 475.1,258.3 475.5,257.9 475.9,256.9 476.3,258.8 476.7,258.4 477.1,257.9 477.5,256.9 477.9,259.4 478.3,258.0 478.7,259.6 479.1,260.5 479.5,260.2 479.9,258.5 480.3,258.8 480.7,260.4 481.1,260.8 481.5,259.9 481.9,259.8 482.3,261.7 482.7,261.6 483.1,260.3 483.5,259.8 483.9,260.8 484.3,259.0 484.7,260.4 485.1,260.5 485.5,261.5 485.9,260.9 486.3,258.7 486.7,262.2 487.1,261.0 487.5,258.6 487.9,259.1 488.3,261.2 488.7,259.4 489.1,261.4 489.5,259.7 489.9,259.2 490.3,262.2 490.7,262.4 491.1,260.5 491.5,262.3 491.9,261.2 492.3,261.3 492.7,260.7 493.1,261.5 493.5,262.3 493.9,262.4 494.3,263.0 494.7,262.8 495.1,261.7 495.5,260.6 495.9,261.9 496.3,261.7 496.7,260.7 497.1,260.0 497.5,260.4 497.9,259.7 498.3,260.3 498.7,261.3 499.1,262.4 499.5,261.3 499.9,260.7 500.3,260.7 500.7,261.0 501.1,262.3 501.5,261.2 501.9,259.4 502.3,261.1 502.7,259.4 503.1,260.3 503.5,261.1 503.9,260.1 504.3,260.8 504.7,262.0 505.1,260.1 505.5,261.8 505.9,261.6 506.3,261.4 506.7,259.9 507.1,261.7 507.5,261.0 507.9,261.3 508.3,260.6 508.7,261.7 509.1,259.1 509.5,260.8 509.9,261.1 510.3,262.9 510.7,258.7 511.1,259.0 511.5,259.9 511.9,260.3 512.3,259.2 512.7,260.6 513.1,259.6 513.5,259.9 513.9,258.4 514.3,260.0 514.7,259.7 515.1,260.9 515.5,260.2 515.9,260.8 516.3,259.7 516.7,258.6 517.1,259.9 517.5,257.7 517.9,257.7 518.3,258.3 518.7,259.6 519.1,259.7 519.5,257.0 519.9,258.2 520.3,259.5 520.7,257.8 521.1,256.4 521.5,257.8 521.9,258.8 522.3,256.6 522.7,256.3 523.1,258.5 523.5,256.9 523.9,254.8 524.3,256.3 524.7,256.3 525.1,254.5 525.5,254.6 525.9,254.9 526.3,254.1 526.7,254.9 527.1,254.3 527.5,253.6 527.9,253.8 528.3,251.6 528.7,250.7 529.1,249.8 529.5,250.1 529.9,249.2 530.3,249.6 530.7,250.3 531.1,250.5 531.5,249.3 531.9,248.8 532.3,248.1 532.7,247.9 533.1,246.6 533.5,246.0 533.9,245.1 534.3,245.6 534.7,245.7 535.1,244.8 535.5,244.8 535.9,246.1 536.3,244.6 536.7,244.9 537.1,245.3 537.5,247.2 537.9,247.2 538.3,250.1 538.7,251.3 539.1,252.5 539.5,251.2 539.9,253.4 540.3,255.7 540.7,255.7 541.1,254.1 541.5,255.0 541.9,255.0 542.3,256.7 542.7,257.4 543.1,256.6 543.5,255.5 543.9,257.4 544.3,255.5 544.7,258.5 545.1,256.8 545.5,256.8 545.9,256.7 546.3,257.8 546.7,257.9 547.1,258.2 547.5,257.6 547.9,257.6 548.3,258.6 548.7,258.9 549.1,257.8 549.5,258.0 549.9,258.1 550.3,257.1 550.7,256.7 551.1,255.9 551.5,256.7 551.9,258.6 552.3,256.4 552.7,255.8 553.1,256.8 553.5,257.1 553.9,257.2 554.3,256.0 554.7,257.2 555.1,256.2 555.5,256.2 555.9,256.3 556.3,255.6 556.7,255.7 557.1,256.6 557.5,254.7 557.9,255.0 558.3,255.5 558.7,254.8 559.1,254.5 559.5,252.8 559.9,252.3 560.3,253.0 560.7,252.3 561.1,251.0 561.5,252.5 561.9,252.8 562.3,253.8 562.7,252.4 563.1,252.3 563.5,251.8 563.9,252.8 564.3,252.4 564.7,254.6 565.1,252.2 565.5,254.2 565.9,252.9 566.3,252.1 566.7,253.6 567.1,253.7 567.5,255.1 567.9,254.6 568.3,254.2 568.7,254.1 569.1,254.1 569.5,255.0 569.9,255.5 570.3,254.8 570.7,255.0 571.1,256.2 571.5,255.1 571.9,255.8 572.3,255.5 572.7,254.7 573.1,255.9 573.5,254.1 573.9,250.9 574.3,247.4 574.5,248.4 574.7,248.5 575.1,251.2 575.5,253.8 575.9,255.0 576.3,258.7 576.7,257.8 577.1,257.5 577.5,258.2 577.9,257.7 578.3,257.6 578.7,257.6 579.1,258.9 579.5,259.8 579.9,260.1 580.3,259.2 580.7,259.3 581.1,257.6 581.5,257.4 581.9,258.9 582.3,260.2 582.7,260.6 583.1,259.3 583.5,258.4 583.9,259.3 584.3,259.5 584.7,258.7 585.1,259.4 585.5,260.5 585.9,259.1 586.3,259.6 586.7,261.4 587.1,260.1 587.5,260.1 587.9,259.2 588.3,260.5 588.7,258.3 589.1,260.9 589.5,259.7 589.9,258.9 590.3,259.0 590.7,259.5 591.1,257.5 591.5,259.3 591.9,259.5 592.3,258.2 592.7,259.7 593.1,260.4 593.5,258.0 593.9,258.7 594.3,260.0 594.7,261.4 595.1,259.0 595.5,259.7 595.9,258.9 596.3,259.7 596.7,260.0 597.1,259.0 597.5,260.2 597.9,262.6 598.3,261.1 598.7,259.5 599.1,259.8 599.5,258.2 599.9,259.3 600.3,259.0 600.7,258.6 601.1,257.6 601.5,260.8 601.9,259.8 602.3,258.2 602.7,260.0 603.1,260.0 603.5,258.1 603.9,260.5 604.3,257.1 604.7,260.0 605.1,258.2 605.5,259.5 605.9,257.4 606.3,259.2 606.7,260.1 607.1,260.2 607.5,259.1 607.9,259.1 608.3,258.2 608.7,258.4 609.1,258.8 609.5,257.5 609.9,259.0 610.3,258.4 610.7,259.0 611.1,259.3 611.5,258.3 611.9,257.5 612.3,258.8 612.7,257.8 613.1,258.3 613.5,258.3 613.9,257.1 614.3,258.7 614.7,257.0 615.1,257.9 615.5,258.7 615.9,258.4 616.3,258.1 616.7,259.4 617.1,257.7 617.5,257.8 617.9,258.4 618.3,255.7 618.7,256.7 619.1,257.6 619.5,257.1 619.9,255.8 620.3,256.5 620.7,256.3 621.1,255.5 621.5,256.2 621.9,253.7 622.3,255.1 622.7,254.0 623.1,253.5 623.5,251.6 623.9,255.1 624.3,250.2 624.7,252.2 625.1,251.5 625.5,253.0 625.9,250.2 626.3,250.0 626.7,249.7 627.1,249.6 627.5,249.2 627.9,248.1 628.3,244.7 628.7,245.4 629.1,245.9 629.5,245.2 629.9,244.9 630.3,242.6 630.7,242.2 631.1,241.7 631.5,241.5 631.9,240.9 632.3,239.0 632.7,239.6 633.1,238.0 633.5,238.1 633.9,236.2 634.3,236.6 634.7,239.1 635.1,237.8 635.5,240.1 635.9,240.1 636.3,238.0 636.7,239.3 637.1,239.8 637.5,239.4 637.9,237.9 638.3,240.2 638.7,239.8 639.1,238.5 639.5,239.2 639.9,238.5 640.3,239.9 640.7,236.4 641.1,232.0 641.5,226.9 641.9,215.8 642.3,205.0 642.7,192.2 642.9,191.6 643.1,192.7 643.5,207.0 643.9,221.1 644.3,228.9 644.7,236.3 645.1,240.8 645.5,243.3 645.9,244.4 646.3,246.4 646.7,247.5 647.1,249.3 647.5,249.1 647.9,250.1 648.3,251.7 648.7,251.6 649.1,251.1 649.5,251.0 649.9,252.5 650.3,251.9 650.7,253.6 651.1,253.1 651.5,252.1 651.9,254.6 652.3,253.3 652.7,254.9 653.1,254.7 653.5,255.2 653.9,253.2 654.3,254.5 654.7,254.9 655.1,257.6 655.5,256.0 655.9,255.5 656.3,256.0 656.7,253.9 657.1,252.5 657.5,249.2 657.9,246.2 658.3,239.2 658.7,237.3 659.1,242.6 659.5,247.6 659.9,251.1 660.3,253.5 660.7,257.2 661.1,257.7 661.5,256.4 661.9,258.2 662.3,259.0 662.7,258.2 663.1,257.0 663.5,258.6 663.9,259.5 664.3,259.8 664.7,258.7 665.1,259.6 665.5,259.3 665.9,259.9 666.3,258.2 666.7,258.7 667.1,259.9 667.5,260.3 667.9,259.4 668.3,260.0 668.7,259.6 669.1,258.6 669.5,260.7 669.9,258.4 670.3,258.1 670.7,259.1 671.1,259.5 671.5,258.9 671.9,257.6 672.3,256.7 672.7,258.0 673.1,257.1 673.5,255.2 673.9,254.3 674.3,254.1 674.7,250.6 675.1,242.1 675.5,235.3 675.9,225.3 676.3,212.8 676.5,209.5 676.7,212.2 677.1,225.1 677.5,235.0 677.9,245.1 678.3,248.7 678.7,253.9 679.1,254.6 679.5,256.4 679.9,257.1 680.3,257.2 680.7,255.6 681.1,259.4 681.5,259.6 681.9,259.6 682.3,260.1"/><polyline clip-path="url(#cDZ)" fill="none" stroke="#e52a30" stroke-width="0.85" stroke-opacity="1.0" stroke-linejoin="round" points="355.5,177.4 355.9,180.2 356.3,184.7 356.7,187.4 357.1,188.6 357.5,193.5 357.9,194.5 358.3,197.0 358.7,199.9 359.1,200.2 359.5,200.6 359.9,202.7 360.3,206.1 360.7,205.6 361.1,209.2 361.5,211.4 361.9,212.1 362.3,215.3 362.7,217.3 363.1,217.6 363.5,219.3 363.9,221.6 364.3,221.0 364.7,222.5 365.1,225.2 365.5,225.2 365.9,224.6 366.3,226.7 366.7,229.3 367.1,226.7 367.5,229.5 367.9,230.1 368.3,229.8 368.7,231.0 369.1,230.3 369.5,232.9 369.9,233.5 370.3,231.5 370.7,232.5 371.1,233.2 371.5,232.9 371.9,234.1 372.3,233.2 372.7,235.0 373.1,234.5 373.5,235.0 373.9,235.8 374.3,236.6 374.7,235.0 375.1,237.0 375.5,237.3 375.9,236.6 376.3,238.4 376.7,236.5 377.1,236.9 377.5,238.1 377.9,237.3 378.3,239.5 378.7,238.6 379.1,240.3 379.5,237.9 379.9,238.2 380.3,240.7 380.7,238.6 381.1,240.9 381.5,239.3 381.9,240.6 382.3,241.7 382.7,240.7 383.1,239.9 383.5,240.7 383.9,242.4 384.3,241.6 384.7,242.2 385.1,241.7 385.5,242.0 385.9,241.6 386.3,240.8 386.7,242.3 387.1,241.9 387.5,239.9 387.9,241.7 388.3,242.6 388.7,243.4 389.1,240.3 389.5,241.6 389.9,241.9 390.3,242.0 390.7,240.6 391.1,241.6 391.5,240.7 391.9,240.9 392.3,240.3 392.7,241.0 393.1,240.3 393.5,240.8 393.9,240.3 394.3,241.2 394.7,241.8 395.1,240.0 395.5,239.2 395.9,239.5 396.3,239.1 396.7,237.8 397.1,239.3 397.5,238.6 397.9,239.7 398.3,238.5 398.7,239.2 399.1,238.8 399.5,237.3 399.9,237.2 400.3,236.7 400.7,236.5 401.1,237.3 401.5,235.7 401.9,235.3 402.3,234.5 402.7,236.2 403.1,234.0 403.5,233.7 403.9,232.5 404.3,233.1 404.7,231.6 405.1,231.1 405.5,229.2 405.9,229.0 406.3,230.1 406.7,230.0 407.1,227.0 407.5,228.0 407.9,227.3 408.3,229.2 408.7,224.6 409.1,224.0 409.5,222.7 409.9,223.5 410.3,222.7 410.7,220.4 411.1,221.0 411.5,220.2 411.9,216.1 412.3,215.4 412.7,213.4 413.1,212.2 413.5,212.3 413.9,212.9 414.3,212.5 414.7,214.5 415.1,216.2 415.5,215.4 415.9,216.7 416.3,217.4 416.7,219.7 417.1,220.3 417.5,222.4 417.9,222.2 418.3,222.1 418.7,225.0 419.1,225.2 419.5,227.5 419.9,228.0 420.3,225.7 420.7,226.9 421.1,229.3 421.5,228.9 421.9,227.9 422.3,229.8 422.7,231.7 423.1,231.1 423.5,229.5 423.9,230.4 424.3,230.8 424.7,229.4 425.1,230.9 425.5,228.1 425.9,230.4 426.3,229.4 426.7,227.9 427.1,226.9 427.5,226.0 427.9,224.2 428.3,224.9 428.7,223.9 429.1,221.8 429.5,218.9 429.9,215.5 430.3,210.2 430.7,205.6 431.1,201.2 431.3,202.5 431.5,201.7 431.9,207.5 432.3,211.7 432.7,218.9 433.1,223.3 433.5,226.5 433.9,228.9 434.3,229.9 434.7,232.2 435.1,233.9 435.5,236.8 435.9,239.7 436.3,238.5 436.7,243.2 437.1,241.6 437.5,242.1 437.9,244.4 438.3,245.7 438.7,244.9 439.1,244.7 439.5,247.7 439.9,245.4 440.3,247.7 440.7,247.3 441.1,247.2 441.5,247.9 441.9,247.2 442.3,247.5 442.7,249.1 443.1,248.1 443.5,248.7 443.9,251.0 444.3,251.6 444.7,251.2 445.1,251.2 445.5,250.3 445.9,250.9 446.3,250.3 446.7,248.6 447.1,251.7 447.5,251.9 447.9,252.8 448.3,250.9 448.7,253.3 449.1,251.8 449.5,251.2 449.9,252.1 450.3,253.3 450.7,252.4 451.1,252.8 451.5,251.5 451.9,252.8 452.3,253.2 452.7,251.4 453.1,252.6 453.5,250.9 453.9,252.3 454.3,250.6 454.7,252.4 455.1,251.9 455.5,250.7 455.9,251.8 456.3,250.2 456.7,250.8 457.1,249.5 457.5,250.4 457.9,249.0 458.3,250.6 458.7,249.4 459.1,249.3 459.5,247.5 459.9,246.9 460.3,248.5 460.7,251.4 461.1,249.4 461.5,252.0 461.9,252.5 462.3,251.3 462.7,252.3 463.1,254.4 463.5,253.6 463.9,254.1 464.3,254.4 464.7,255.3 465.1,255.3 465.5,256.8 465.9,256.0 466.3,257.0 466.7,255.9 467.1,258.5 467.5,256.1 467.9,256.2 468.3,255.6 468.7,254.9 469.1,255.7 469.5,256.8 469.9,255.7 470.3,257.5 470.7,255.3 471.1,255.3 471.5,257.2 471.9,257.4 472.3,256.0 472.7,258.2 473.1,258.6 473.5,257.8 473.9,256.3 474.3,258.9 474.7,257.6 475.1,257.8 475.5,258.6 475.9,257.7 476.3,259.9 476.7,258.1 477.1,259.8 477.5,259.7 477.9,260.8 478.3,259.7 478.7,260.2 479.1,259.1 479.5,259.4 479.9,259.1 480.3,260.5 480.7,259.2 481.1,261.3 481.5,259.8 481.9,258.9 482.3,259.4 482.7,261.2 483.1,259.7 483.5,260.8 483.9,258.8 484.3,260.8 484.7,261.1 485.1,260.9 485.5,261.3 485.9,259.6 486.3,259.1 486.7,259.4 487.1,261.5 487.5,261.1 487.9,261.6 488.3,260.3 488.7,261.7 489.1,259.5 489.5,261.4 489.9,260.1 490.3,260.7 490.7,261.7 491.1,262.0 491.5,261.0 491.9,260.9 492.3,262.5 492.7,262.3 493.1,260.7 493.5,261.6 493.9,261.2 494.3,262.3 494.7,261.9 495.1,261.9 495.5,261.6 495.9,261.0 496.3,262.5 496.7,261.9 497.1,259.4 497.5,261.2 497.9,261.8 498.3,260.9 498.7,260.7 499.1,261.0 499.5,261.9 499.9,260.7 500.3,261.9 500.7,262.9 501.1,262.5 501.5,262.5 501.9,261.4 502.3,262.7 502.7,261.6 503.1,262.4 503.5,260.5 503.9,262.8 504.3,261.0 504.7,261.6 505.1,262.6 505.5,261.6 505.9,261.1 506.3,261.4 506.7,262.6 507.1,262.6 507.5,262.2 507.9,260.9 508.3,261.1 508.7,262.1 509.1,262.2 509.5,260.8 509.9,260.8 510.3,262.1 510.7,262.5 511.1,261.5 511.5,260.3 511.9,262.9 512.3,261.5 512.7,261.9 513.1,259.4 513.5,260.7 513.9,261.2 514.3,261.7 514.7,260.5 515.1,259.9 515.5,259.8 515.9,260.9 516.3,261.6 516.7,261.5 517.1,259.6 517.5,260.6 517.9,261.1 518.3,262.1 518.7,261.7 519.1,261.4 519.5,259.6 519.9,262.2 520.3,261.0 520.7,261.3 521.1,260.5 521.5,260.9 521.9,260.7 522.3,260.7 522.7,260.2 523.1,261.6 523.5,261.8 523.9,260.5 524.3,260.2 524.7,260.1 525.1,260.6 525.5,262.2 525.9,260.7 526.3,262.5 526.7,259.5 527.1,259.6 527.5,259.8 527.9,259.6 528.3,260.6 528.7,261.8 529.1,259.3 529.5,260.2 529.9,261.0 530.3,261.8 530.7,259.6 531.1,260.2 531.5,260.3 531.9,259.0 532.3,259.2 532.7,258.2 533.1,257.4 533.5,257.4 533.9,258.6 534.3,258.2 534.7,256.3 535.1,253.6 535.5,253.9 535.9,250.2 536.3,249.2 536.6,247.1 537.1,247.5 537.5,250.6 537.9,252.3 538.3,255.8 538.7,253.0 539.1,255.1 539.5,255.7 539.9,254.3 540.3,256.8 540.7,257.0 541.1,257.4 541.5,257.4 541.9,256.6 542.3,257.6 542.7,256.3 543.1,256.8 543.5,257.0 543.9,256.8 544.3,257.2 544.7,256.0 545.1,256.4 545.5,255.9 545.9,256.4 546.3,256.5 546.7,255.5 547.1,257.5 547.5,257.9 547.9,256.7 548.3,256.4 548.7,255.8 549.1,256.5 549.5,256.6 549.9,257.7 550.3,257.3 550.7,258.2 551.1,258.2 551.5,257.4 551.9,256.7 552.3,256.9 552.7,257.0 553.1,258.1 553.5,259.2 553.9,257.3 554.3,258.8 554.7,258.0 555.1,259.4 555.5,260.3 555.9,259.2 556.3,258.6 556.7,258.7 557.1,259.5 557.5,258.0 557.9,257.6 558.3,258.5 558.7,259.9 559.1,257.7 559.5,259.5 559.9,259.3 560.3,258.3 560.7,257.9 561.1,257.2 561.5,257.8 561.9,259.1 562.3,259.8 562.7,258.7 563.1,258.9 563.5,258.8 563.9,261.9 564.3,258.4 564.7,258.4 565.1,260.9 565.5,259.0 565.9,261.0 566.3,259.4 566.7,261.2 567.1,261.7 567.5,260.0 567.9,260.5 568.3,259.7 568.7,261.5 569.1,260.5 569.5,259.9 569.9,261.3 570.3,261.3 570.7,260.9 571.1,260.5 571.5,261.7 571.9,260.0 572.3,259.5 572.7,259.5 573.1,259.0 573.5,256.1 573.9,252.9 574.4,250.0 574.7,251.4 575.1,254.7 575.5,259.9 575.9,258.1 576.3,260.3 576.7,261.4 577.1,260.9 577.5,260.9 577.9,262.7 578.3,263.6 578.7,263.5 579.1,262.5 579.5,262.1 579.9,263.2 580.3,261.1 580.7,261.9 581.1,264.1 581.5,263.1 581.9,262.9 582.3,262.6 582.7,262.4 583.1,261.9 583.5,263.3 583.9,263.2 584.3,263.3 584.7,260.5 585.1,264.0 585.5,263.6 585.9,264.2 586.3,262.2 586.7,260.7 587.1,261.5 587.5,261.9 587.9,264.7 588.3,262.0 588.7,262.3 589.1,263.7 589.5,263.6 589.9,263.6 590.3,262.3 590.7,264.5 591.1,263.1 591.5,261.9 591.9,263.1 592.3,261.3 592.7,261.5 593.1,262.0 593.5,261.5 593.9,262.2 594.3,262.0 594.7,262.2 595.1,261.8 595.5,263.6 595.9,261.6 596.3,262.1 596.7,261.7 597.1,262.0 597.5,261.3 597.9,264.5 598.3,262.2 598.7,263.3 599.1,262.1 599.5,261.2 599.9,262.0 600.3,261.8 600.7,261.2 601.1,262.5 601.5,263.9 601.9,262.5 602.3,263.3 602.7,263.5 603.1,260.4 603.5,264.1 603.9,261.0 604.3,263.9 604.7,262.4 605.1,262.7 605.5,264.2 605.9,263.1 606.3,260.5 606.7,260.3 607.1,260.8 607.5,262.9 607.9,262.2 608.3,262.7 608.7,262.2 609.1,262.9 609.5,260.7 609.9,259.9 610.3,260.9 610.7,262.3 611.1,260.5 611.5,259.1 611.9,260.8 612.3,261.9 612.7,261.6 613.1,260.8 613.5,260.6 613.9,259.0 614.3,260.9 614.7,262.6 615.1,260.3 615.5,262.2 615.9,259.4 616.3,260.1 616.7,260.0 617.1,260.3 617.5,258.6 617.9,261.3 618.3,259.8 618.7,258.0 619.1,260.5 619.5,260.0 619.9,258.5 620.3,259.5 620.7,260.3 621.1,260.1 621.5,259.7 621.9,258.6 622.3,259.4 622.7,260.3 623.1,261.0 623.5,259.4 623.9,259.4 624.3,259.4 624.7,258.1 625.1,256.5 625.5,257.5 625.9,257.6 626.3,257.8 626.7,257.4 627.1,256.4 627.5,256.3 627.9,256.4 628.3,255.5 628.7,255.3 629.1,254.2 629.5,255.2 629.9,255.3 630.3,254.3 630.7,254.3 631.1,254.2 631.5,252.6 631.9,252.5 632.3,251.6 632.7,252.4 633.1,250.3 633.5,250.8 633.9,248.3 634.3,251.4 634.7,249.8 635.1,248.0 635.5,248.4 635.9,250.0 636.3,248.0 636.7,246.2 637.1,247.3 637.5,246.5 637.9,246.9 638.3,246.1 638.7,243.7 639.1,244.5 639.5,244.0 639.9,242.7 640.3,239.1 640.7,236.6 641.1,229.8 641.5,219.3 641.9,206.2 642.3,187.1 642.7,183.1 643.1,190.8 643.5,204.6 643.9,219.2 644.3,227.6 644.7,234.4 645.1,238.4 645.5,240.1 645.9,242.6 646.3,242.4 646.7,244.8 647.1,247.3 647.5,248.1 647.9,246.7 648.3,248.8 648.7,247.9 649.1,246.7 649.5,247.6 649.9,248.3 650.3,248.6 650.7,249.5 651.1,248.4 651.5,248.8 651.9,250.4 652.3,249.8 652.7,250.2 653.1,249.9 653.5,250.8 653.9,251.0 654.3,249.7 654.7,251.6 655.1,250.0 655.5,251.0 655.9,250.4 656.3,251.1 656.7,250.3 657.1,249.5 657.5,247.1 657.9,243.7 658.3,240.3 658.7,238.4 659.1,240.1 659.5,244.0 659.9,249.9 660.3,253.5 660.7,253.1 661.1,255.7 661.5,255.5 661.9,256.9 662.3,258.1 662.7,258.1 663.1,257.8 663.5,256.5 663.9,258.4 664.3,258.8 664.7,260.1 665.1,258.3 665.5,258.9 665.9,259.2 666.3,260.2 666.7,257.9 667.1,259.8 667.5,258.9 667.9,258.3 668.3,257.6 668.7,258.0 669.1,259.6 669.5,258.3 669.9,257.8 670.3,258.2 670.7,259.7 671.1,259.3 671.5,258.9 671.9,258.8 672.3,258.3 672.7,256.7 673.1,255.4 673.5,256.8 673.9,254.3 674.3,252.6 674.7,248.8 675.1,244.4 675.5,236.7 675.9,223.3 676.3,213.0 676.5,211.2 676.7,213.5 677.1,223.7 677.5,235.5 677.9,243.4 678.3,249.4 678.7,251.9 679.1,255.2 679.5,255.6 679.9,258.2 680.3,256.6 680.7,256.7 681.1,258.9 681.5,258.9 681.9,257.3 682.3,261.2"/><line x1="27.5" y1="1.5" x2="683" y2="1.5" stroke="#666" stroke-width="1.1"/><line x1="28.4" y1="1" x2="28.4" y2="277.7" stroke="#555" stroke-width="1.15"/><line x1="682.5" y1="1" x2="682.5" y2="277.7" stroke="#4a4a4a" stroke-width="1.1"/><line x1="27.5" y1="277.2" x2="683" y2="277.2" stroke="#4a4a4a" stroke-width="1.1"/><line x1="27.5" y1="139.5" x2="683" y2="139.5" stroke="#222" stroke-width="1.1"/><line x1="355.5" y1="1" x2="355.5" y2="277.7" stroke="#3a3a3a" stroke-width="1.1"/><line x1="57.8" y1="139.5" x2="57.8" y2="142.7" stroke="#444" stroke-width="0.9"/><line x1="57.8" y1="277.2" x2="57.8" y2="280.4" stroke="#444" stroke-width="0.9"/><line x1="87.5" y1="139.5" x2="87.5" y2="141.3" stroke="#444" stroke-width="0.9"/><line x1="87.5" y1="277.2" x2="87.5" y2="279.0" stroke="#444" stroke-width="0.9"/><line x1="117.2" y1="139.5" x2="117.2" y2="142.7" stroke="#444" stroke-width="0.9"/><line x1="117.2" y1="277.2" x2="117.2" y2="280.4" stroke="#444" stroke-width="0.9"/><line x1="147.0" y1="139.5" x2="147.0" y2="141.3" stroke="#444" stroke-width="0.9"/><line x1="147.0" y1="277.2" x2="147.0" y2="279.0" stroke="#444" stroke-width="0.9"/><line x1="176.8" y1="139.5" x2="176.8" y2="142.7" stroke="#444" stroke-width="0.9"/><line x1="176.8" y1="277.2" x2="176.8" y2="280.4" stroke="#444" stroke-width="0.9"/><line x1="206.5" y1="139.5" x2="206.5" y2="141.3" stroke="#444" stroke-width="0.9"/><line x1="206.5" y1="277.2" x2="206.5" y2="279.0" stroke="#444" stroke-width="0.9"/><line x1="236.2" y1="139.5" x2="236.2" y2="142.7" stroke="#444" stroke-width="0.9"/><line x1="236.2" y1="277.2" x2="236.2" y2="280.4" stroke="#444" stroke-width="0.9"/><line x1="266.0" y1="139.5" x2="266.0" y2="141.3" stroke="#444" stroke-width="0.9"/><line x1="266.0" y1="277.2" x2="266.0" y2="279.0" stroke="#444" stroke-width="0.9"/><line x1="295.8" y1="139.5" x2="295.8" y2="142.7" stroke="#444" stroke-width="0.9"/><line x1="295.8" y1="277.2" x2="295.8" y2="280.4" stroke="#444" stroke-width="0.9"/><line x1="325.5" y1="139.5" x2="325.5" y2="141.3" stroke="#444" stroke-width="0.9"/><line x1="325.5" y1="277.2" x2="325.5" y2="279.0" stroke="#444" stroke-width="0.9"/><line x1="385.2" y1="139.5" x2="385.2" y2="142.7" stroke="#444" stroke-width="0.9"/><line x1="385.2" y1="277.2" x2="385.2" y2="280.4" stroke="#444" stroke-width="0.9"/><line x1="415.0" y1="139.5" x2="415.0" y2="141.3" stroke="#444" stroke-width="0.9"/><line x1="415.0" y1="277.2" x2="415.0" y2="279.0" stroke="#444" stroke-width="0.9"/><line x1="444.8" y1="139.5" x2="444.8" y2="142.7" stroke="#444" stroke-width="0.9"/><line x1="444.8" y1="277.2" x2="444.8" y2="280.4" stroke="#444" stroke-width="0.9"/><line x1="474.5" y1="139.5" x2="474.5" y2="141.3" stroke="#444" stroke-width="0.9"/><line x1="474.5" y1="277.2" x2="474.5" y2="279.0" stroke="#444" stroke-width="0.9"/><line x1="504.2" y1="139.5" x2="504.2" y2="142.7" stroke="#444" stroke-width="0.9"/><line x1="504.2" y1="277.2" x2="504.2" y2="280.4" stroke="#444" stroke-width="0.9"/><line x1="534.0" y1="139.5" x2="534.0" y2="141.3" stroke="#444" stroke-width="0.9"/><line x1="534.0" y1="277.2" x2="534.0" y2="279.0" stroke="#444" stroke-width="0.9"/><line x1="563.8" y1="139.5" x2="563.8" y2="142.7" stroke="#444" stroke-width="0.9"/><line x1="563.8" y1="277.2" x2="563.8" y2="280.4" stroke="#444" stroke-width="0.9"/><line x1="593.5" y1="139.5" x2="593.5" y2="141.3" stroke="#444" stroke-width="0.9"/><line x1="593.5" y1="277.2" x2="593.5" y2="279.0" stroke="#444" stroke-width="0.9"/><line x1="623.2" y1="139.5" x2="623.2" y2="142.7" stroke="#444" stroke-width="0.9"/><line x1="623.2" y1="277.2" x2="623.2" y2="280.4" stroke="#444" stroke-width="0.9"/><line x1="653.0" y1="139.5" x2="653.0" y2="141.3" stroke="#444" stroke-width="0.9"/><line x1="653.0" y1="277.2" x2="653.0" y2="279.0" stroke="#444" stroke-width="0.9"/><text transform="translate(55.50,294.9) scale(0.98,1)" text-anchor="middle" font-family="Liberation Serif" font-size="16.2" fill="#1a1a1a">5</text><text transform="translate(118.20,294.9) scale(0.98,1)" text-anchor="middle" font-family="Liberation Serif" font-size="16.2" fill="#1a1a1a">10</text><text transform="translate(177.00,294.9) scale(0.98,1)" text-anchor="middle" font-family="Liberation Serif" font-size="16.2" fill="#1a1a1a">15</text><text transform="translate(236.70,294.9) scale(0.98,1)" text-anchor="middle" font-family="Liberation Serif" font-size="16.2" fill="#1a1a1a">20</text><text transform="translate(295.75,294.9) scale(0.98,1)" text-anchor="middle" font-family="Liberation Serif" font-size="16.2" fill="#1a1a1a">25</text><text transform="translate(348.75,294.9) scale(0.98,1)" text-anchor="middle" font-family="Liberation Serif" font-size="16.2" fill="#1a1a1a">30</text><text transform="translate(383.20,294.9) scale(0.98,1)" text-anchor="middle" font-family="Liberation Serif" font-size="16.2" fill="#1a1a1a">5</text><text transform="translate(445.30,294.9) scale(0.98,1)" text-anchor="middle" font-family="Liberation Serif" font-size="16.2" fill="#1a1a1a">10</text><text transform="translate(504.90,294.9) scale(0.98,1)" text-anchor="middle" font-family="Liberation Serif" font-size="16.2" fill="#1a1a1a">15</text><text transform="translate(564.10,294.9) scale(0.98,1)" text-anchor="middle" font-family="Liberation Serif" font-size="16.2" fill="#1a1a1a">20</text><text transform="translate(623.10,294.9) scale(0.98,1)" text-anchor="middle" font-family="Liberation Serif" font-size="16.2" fill="#1a1a1a">25</text><text transform="translate(676.40,294.9) scale(0.98,1)" text-anchor="middle" font-family="Liberation Serif" font-size="16.2" fill="#1a1a1a">30</text><text x="37" y="20.8" font-family="Liberation Serif" font-size="16.5" fill="#303030">YG</text><text x="363.8" y="22.0" font-family="Liberation Serif" font-size="16.5" fill="#303030">LS</text><text x="37" y="159.5" font-family="Liberation Serif" font-size="16.5" fill="#303030">TLS</text><text x="363.9" y="160.9" font-family="Liberation Serif" font-size="16.5" fill="#303030">DZ</text><line x1="568" y1="11.6" x2="587" y2="11.6" stroke="#808080" stroke-width="1"/><text x="601.7" y="17.60" font-family="Liberation Serif" font-size="16.8" letter-spacing="0.33" fill="#303030">Untreated</text><line x1="568" y1="26.1" x2="587" y2="26.1" stroke="#66c48a" stroke-width="1"/><text x="601.7" y="32.15" font-family="Liberation Serif" font-size="16.8" letter-spacing="0.33" fill="#303030">Glycolated</text><line x1="568" y1="40.6" x2="587" y2="40.6" stroke="#f09090" stroke-width="1"/><text x="601.7" y="46.70" font-family="Liberation Serif" font-size="16.8" letter-spacing="0.33" fill="#303030">Heated</text><text x="320.5" y="318.2" font-family="Liberation Serif" font-size="17.5" font-weight="bold" fill="#2a2a2a">2θ/degree</text><text transform="translate(12.3,163.5) rotate(-90)" font-family="Liberation Serif" font-size="17" font-weight="bold" letter-spacing="0.25" fill="#2a2a2a">intensity</text></svg></body></html>
